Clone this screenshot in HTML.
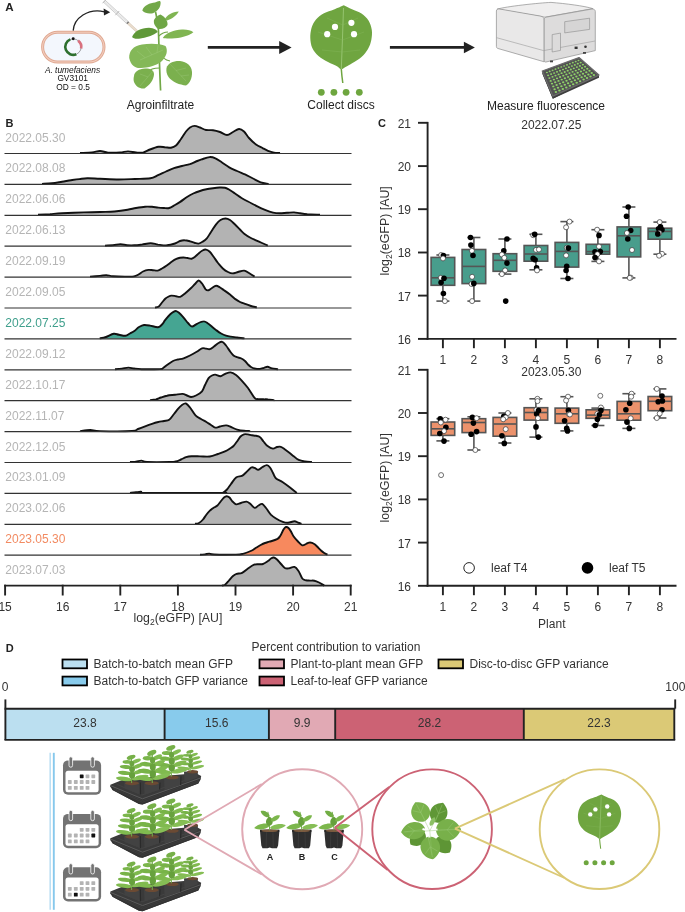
<!DOCTYPE html>
<html><head><meta charset="utf-8"><title>Figure</title>
<style>
html,body{margin:0;padding:0;background:#fff;}
body{width:685px;height:912px;overflow:hidden;}
svg{display:block;will-change:transform;}
text{font-family:"Liberation Sans", sans-serif;}
</style></head>
<body>
<svg width="685" height="912" viewBox="0 0 685 912" font-family='"Liberation Sans", sans-serif'>
<rect width="685" height="912" fill="#fff"/>
<text x="5.3" y="11.3" font-size="11.6" font-weight="bold" fill="#222">A</text>
<!-- bacterium -->
<rect x="42.6" y="32.2" width="61.4" height="29.8" rx="14.9" fill="#f3f7fd" stroke="#dfa892" stroke-width="3"/>
<rect x="42.6" y="32.2" width="61.4" height="29.8" rx="14.9" fill="none" stroke="#f3cdbd" stroke-width="1.1"/>
<circle cx="73.2" cy="46.9" r="8" fill="none" stroke="#444" stroke-width="0.5"/>
<path d="M70.3,39.4 A8,8 0 1,0 76.3,54.3" fill="none" stroke="#2d6f2e" stroke-width="2.6"/>
<path d="M78.1,40.6 A8,8 0 0,1 81.1,48.6" fill="none" stroke="#d8707e" stroke-width="2.6"/>
<circle cx="73.2" cy="38.7" r="1.45" fill="#111"/>
<path d="M73.2,30.6 C74,18 88,8 104.5,11.8" fill="none" stroke="#222" stroke-width="1.3"/>
<path d="M110.2,12.3 L103.6,8.6 L104,15.4 Z" fill="#222"/>
<text x="72.5" y="72.7" font-size="8.35" font-style="italic" fill="#111" text-anchor="middle">A. tumefaciens</text>
<text x="72.7" y="81.4" font-size="8.35" fill="#111" text-anchor="middle">GV3101</text>
<text x="73.1" y="90" font-size="8.35" fill="#111" text-anchor="middle">OD = 0.5</text>
<!-- syringe -->
<g transform="translate(104.4,1.3) rotate(42.6)">
<rect x="0" y="-1.3" width="31" height="2.6" fill="#f4f4f4" stroke="#a8a8a8" stroke-width="0.5"/>
<line x1="1" y1="0" x2="30" y2="0" stroke="#d0d0d0" stroke-width="0.5"/>
<line x1="0" y1="-2.6" x2="0" y2="2.6" stroke="#b5b5b5" stroke-width="0.9"/>
<line x1="17.5" y1="-2.8" x2="17.5" y2="2.8" stroke="#b5b5b5" stroke-width="0.9"/>
<rect x="31" y="-1.3" width="1.6" height="2.6" fill="#777"/>
<rect x="32.6" y="-1.1" width="11.4" height="2.2" fill="#e9dccd" stroke="#c9b8a4" stroke-width="0.4"/>
</g>
<!-- plant -->
<g>
<path d="M160.6,90.5 C159.5,70 159,45 158.4,29.2 C157.5,22 156.5,16 155.5,11.7" fill="none" stroke="#72a848" stroke-width="1.7"/>
<path d="M158.4,52 C162,58 165,60 170,61" fill="none" stroke="#6ea544" stroke-width="1.2"/>
<path d="M159.5,68 C154,68 150,69 148,72" fill="none" stroke="#6ea544" stroke-width="1.2"/>
<path d="M158.8,36 C162,33 165,32 168,32" fill="none" stroke="#6ea544" stroke-width="1.1"/>
<!-- top leaf -->
<path d="M142.3,10.5 C144,5 150,3 155,2.5 C158,1 160,0 160.6,2 C161,7 158,11 153,13.2 C149,14 145,13.5 142.3,10.5Z" fill="#72a848"/>
<!-- upper right small leaf -->
<path d="M165,19 C167,15 172,12 178.8,11.5 C177,15 172,19 167,20.4 Z" fill="#80b552"/>
<!-- middle upper leaf -->
<path d="M160.5,14.6 C165,17 168,21 167.5,25 C166,28 162,29.5 158.5,29 C155,27 153.3,23 154,20 C155.5,17 158,15.5 160.5,14.6Z" fill="#6fa646"/>
<!-- left mid leaf -->
<path d="M132.1,37 C134,31 141,28.2 149,27.7 C154,27.8 157,30 157.7,32 C154,35 146,38 139,38.7 C135.5,39 133,38.5 132.1,37Z" fill="#5f9838"/>
<!-- right mid leaf -->
<path d="M162.8,38 C166,32.5 174,30 182,29.5 C187,29.3 191,30.2 193.4,32.2 C190,35 183,37.5 175,38.2 C170,38.6 165,38.5 162.8,38Z" fill="#80b552"/>
<!-- big left leaf -->
<path d="M129.2,58 C129,51 133,46 142,44.5 C150,43.3 160,43.5 165.5,46 C168,50 167,56 162,61 C156,66 148,67.5 141,68 C136,68.6 131,66 129.2,58Z" fill="#84b858"/>
<!-- right lower leaf -->
<path d="M166.5,68 C168,63 173,60.8 180,61 C187,61.8 191.5,66 192,72 C192.3,78 190,83 186,85.4 C180,85 172,82 168.5,77 C166.6,74 166,71 166.5,68Z" fill="#7bb04e"/>
<!-- left lower leaf -->
<path d="M134,76 C134.5,71.5 139,69 145,68.6 C151,68.6 154,70.5 154,74.5 C153.5,80 150,85 144.5,88.5 C139.5,89 135.5,86 134,82 C133.4,80 133.5,78 134,76Z" fill="#7bb04e"/>
<path d="M163,50 L140,60 M152,55 L146,47 M145,57.5 L137,51 M157,52.5 L158,45" stroke="#a5cf83" stroke-width="0.45" opacity="0.8" fill="none"/>
<path d="M170,64 L186,81 M176,70.5 L186,68 M181,76 L189,75" stroke="#a0cb7e" stroke-width="0.45" opacity="0.8" fill="none"/>
<path d="M153,71 L140,86 M148,77 L140,74" stroke="#a0cb7e" stroke-width="0.45" opacity="0.8" fill="none"/>
</g>
<text x="160.5" y="109.3" font-size="12" fill="#222" text-anchor="middle">Agroinfiltrate</text>
<!-- arrows -->
<line x1="207.8" y1="47.4" x2="281" y2="47.4" stroke="#222" stroke-width="2.9"/>
<path d="M291.6,47.4 L279.2,41 L279.2,53.9 Z" fill="#222"/>
<line x1="389.9" y1="47.4" x2="465" y2="47.4" stroke="#222" stroke-width="2.9"/>
<path d="M474.9,47.4 L463.9,41.7 L463.9,53.2 Z" fill="#222"/>
<!-- leaf with discs -->
<path d="M343.8,5.3C345.2,6 349.1,7.9 352,9.3C354.9,10.7 358.8,11.6 361.5,13.5C364.2,15.4 366.8,17.8 368.5,20.5C370.2,23.2 371.3,26.8 371.8,30C372.3,33.2 371.9,36.8 371.3,40C370.7,43.2 369.6,46.2 368,49C366.4,51.8 364.1,54.7 361.5,57C358.9,59.3 355.2,61.3 352.5,63C349.8,64.7 347.4,66 345.5,67C343.6,68 342.7,69.4 341.3,69.3C339.9,69.2 339.2,67.5 337,66.3C334.8,65.1 331.1,63.7 328,62C324.9,60.3 321.1,58.3 318.5,56C315.9,53.7 313.7,51 312.3,48C310.9,45 310.4,41.3 310.3,38C310.2,34.7 310.6,31.1 311.5,28C312.4,24.9 313.9,21.9 316,19.5C318.1,17.1 321,15 324,13.3C327,11.6 330.7,10.8 334,9.5C337.3,8.2 342.2,6 343.8,5.3Z" fill="#6fa540"/><path d="M343.5,8 Q342.5,40 341.3,69" fill="none" stroke="#a4cf82" stroke-width="0.80" opacity="0.9"/><path d="M341.3,69 Q341.8,76 342.8,83" fill="none" stroke="#6fa540" stroke-width="1.50"/><path d="M342.8,25 L358,18" stroke="#8fbf68" stroke-width="0.50" opacity="0.6"/><path d="M342.8,25 L327,18" stroke="#8fbf68" stroke-width="0.50" opacity="0.6"/><path d="M342.5,40 L364,32" stroke="#8fbf68" stroke-width="0.50" opacity="0.6"/><path d="M342.5,40 L318,32" stroke="#8fbf68" stroke-width="0.50" opacity="0.6"/><path d="M342.2,52 L360,50" stroke="#8fbf68" stroke-width="0.50" opacity="0.6"/><path d="M342.2,52 L322,50" stroke="#8fbf68" stroke-width="0.50" opacity="0.6"/>
<circle cx="335" cy="26.9" r="3.1" fill="#fff"/>
<circle cx="351.4" cy="22.8" r="3.1" fill="#fff"/>
<circle cx="327.2" cy="34.2" r="3.1" fill="#fff"/>
<circle cx="354" cy="34.2" r="3.1" fill="#fff"/>
<circle cx="321.3" cy="92.3" r="3.4" fill="#6ea63f"/>
<circle cx="333.9" cy="92.3" r="3.4" fill="#6ea63f"/>
<circle cx="346.1" cy="92.3" r="3.4" fill="#6ea63f"/>
<circle cx="359.3" cy="92.3" r="3.4" fill="#6ea63f"/>
<text x="341" y="109.3" font-size="12" fill="#222" text-anchor="middle">Collect discs</text>
<!-- plate reader -->
<g stroke-linejoin="round">
<path d="M497.2,9.2 C505,6.5 540,2.8 551,2.4 C565,3.5 585,6 592.8,8.6 L545,17.2 Z" fill="#efeeee" stroke="#8c8c8c" stroke-width="0.7"/>
<path d="M496.4,11 C496.4,9.5 497.5,8.8 499,8.9 L541,16.2 C543,16.7 544.2,18 544.2,20 L544.2,61.8 L498,48.5 C497,48.2 496.4,47.6 496.4,46.5 Z" fill="#e9e8e8" stroke="#8c8c8c" stroke-width="0.7"/>
<path d="M544.2,19 C544.2,17.8 545.5,17.2 547,17 L592,9 C594,8.8 595.3,10 595.3,11.6 L595.3,50.6 L546,62 C545,62.2 544.2,61.6 544.2,60.6 Z" fill="#dddcdc" stroke="#8c8c8c" stroke-width="0.7"/>
<path d="M496.6,37.7 L543.6,50.6 L595,41" fill="none" stroke="#9a9a9a" stroke-width="0.6"/>
<path d="M564.7,21.7 L589.6,18.2 L589.6,29.4 L564.7,32.9 Z" fill="#d6d5d5" stroke="#8c8c8c" stroke-width="0.6"/>
<path d="M552.2,34.6 L560.5,33.1 L560.5,50.4 L552.2,52 Z" fill="#dcdbdb" stroke="#8c8c8c" stroke-width="0.6"/>
<rect x="574.6" y="46.6" width="3" height="2.4" fill="#333"/>
<circle cx="585.5" cy="46.8" r="1.3" fill="#333"/>
<rect x="550" y="60.5" width="3" height="1.8" fill="#444"/>
<rect x="583" y="52" width="3" height="1.8" fill="#444"/>
</g>
<path d="M542.3,73.6 L598.9,77.7 L598.9,75.1 L552.8,98.7 Z" fill="#3e3e3e"/><path d="M542.3,71 L552.8,96.1 L552.8,98.7 L542.3,73.6 Z" fill="#3e3e3e"/><path d="M552.8,96.1 L598.9,75.1 L598.9,77.7 L552.8,98.7 Z" fill="#3e3e3e"/><path d="M542.3,71 L579,57.6 L598.9,75.1 L552.8,96.1 Z" fill="#525252" stroke="#6a6a6a" stroke-width="1.3" stroke-linejoin="round"/><ellipse cx="546.9" cy="72.5" rx="1.03" ry="0.83" fill="#8fd16a"/><ellipse cx="549.7" cy="71.4" rx="1.03" ry="0.83" fill="#8fd16a"/><ellipse cx="552.6" cy="70.3" rx="1.03" ry="0.83" fill="#8fd16a"/><ellipse cx="555.5" cy="69.2" rx="1.03" ry="0.83" fill="#8fd16a"/><ellipse cx="558.4" cy="68.1" rx="1.03" ry="0.83" fill="#8fd16a"/><ellipse cx="561.3" cy="67" rx="1.03" ry="0.83" fill="#8fd16a"/><ellipse cx="564.1" cy="66" rx="1.03" ry="0.83" fill="#8fd16a"/><ellipse cx="567" cy="64.9" rx="1.03" ry="0.83" fill="#8fd16a"/><ellipse cx="569.9" cy="63.8" rx="1.03" ry="0.83" fill="#8fd16a"/><ellipse cx="572.8" cy="62.7" rx="1.03" ry="0.83" fill="#8fd16a"/><ellipse cx="575.7" cy="61.6" rx="1.03" ry="0.83" fill="#8fd16a"/><ellipse cx="578.5" cy="60.5" rx="1.03" ry="0.83" fill="#8fd16a"/><ellipse cx="548.1" cy="75.3" rx="1.06" ry="0.86" fill="#8fd16a"/><ellipse cx="551.1" cy="74.1" rx="1.06" ry="0.86" fill="#8fd16a"/><ellipse cx="554.1" cy="73" rx="1.06" ry="0.86" fill="#8fd16a"/><ellipse cx="557" cy="71.8" rx="1.06" ry="0.86" fill="#8fd16a"/><ellipse cx="560" cy="70.7" rx="1.06" ry="0.86" fill="#8fd16a"/><ellipse cx="563" cy="69.5" rx="1.06" ry="0.86" fill="#8fd16a"/><ellipse cx="565.9" cy="68.3" rx="1.06" ry="0.86" fill="#8fd16a"/><ellipse cx="568.9" cy="67.2" rx="1.06" ry="0.86" fill="#8fd16a"/><ellipse cx="571.9" cy="66" rx="1.06" ry="0.86" fill="#8fd16a"/><ellipse cx="574.8" cy="64.9" rx="1.06" ry="0.86" fill="#8fd16a"/><ellipse cx="577.8" cy="63.7" rx="1.06" ry="0.86" fill="#8fd16a"/><ellipse cx="580.7" cy="62.6" rx="1.06" ry="0.86" fill="#8fd16a"/><ellipse cx="549.4" cy="78.1" rx="1.09" ry="0.88" fill="#8fd16a"/><ellipse cx="552.5" cy="76.8" rx="1.09" ry="0.88" fill="#8fd16a"/><ellipse cx="555.5" cy="75.6" rx="1.09" ry="0.88" fill="#8fd16a"/><ellipse cx="558.6" cy="74.4" rx="1.09" ry="0.88" fill="#8fd16a"/><ellipse cx="561.6" cy="73.2" rx="1.09" ry="0.88" fill="#8fd16a"/><ellipse cx="564.7" cy="72" rx="1.09" ry="0.88" fill="#8fd16a"/><ellipse cx="567.7" cy="70.7" rx="1.09" ry="0.88" fill="#8fd16a"/><ellipse cx="570.8" cy="69.5" rx="1.09" ry="0.88" fill="#8fd16a"/><ellipse cx="573.8" cy="68.3" rx="1.09" ry="0.88" fill="#8fd16a"/><ellipse cx="576.9" cy="67.1" rx="1.09" ry="0.88" fill="#8fd16a"/><ellipse cx="579.9" cy="65.9" rx="1.09" ry="0.88" fill="#8fd16a"/><ellipse cx="582.9" cy="64.6" rx="1.09" ry="0.88" fill="#8fd16a"/><ellipse cx="550.7" cy="80.9" rx="1.12" ry="0.90" fill="#8fd16a"/><ellipse cx="553.9" cy="79.6" rx="1.12" ry="0.90" fill="#8fd16a"/><ellipse cx="557" cy="78.3" rx="1.12" ry="0.90" fill="#8fd16a"/><ellipse cx="560.1" cy="77" rx="1.12" ry="0.90" fill="#8fd16a"/><ellipse cx="563.3" cy="75.7" rx="1.12" ry="0.90" fill="#8fd16a"/><ellipse cx="566.4" cy="74.4" rx="1.12" ry="0.90" fill="#8fd16a"/><ellipse cx="569.5" cy="73.1" rx="1.12" ry="0.90" fill="#8fd16a"/><ellipse cx="572.6" cy="71.8" rx="1.12" ry="0.90" fill="#8fd16a"/><ellipse cx="575.8" cy="70.6" rx="1.12" ry="0.90" fill="#8fd16a"/><ellipse cx="578.9" cy="69.3" rx="1.12" ry="0.90" fill="#8fd16a"/><ellipse cx="582" cy="68" rx="1.12" ry="0.90" fill="#8fd16a"/><ellipse cx="585.1" cy="66.7" rx="1.12" ry="0.90" fill="#8fd16a"/><ellipse cx="552" cy="83.6" rx="1.15" ry="0.93" fill="#8fd16a"/><ellipse cx="555.2" cy="82.3" rx="1.15" ry="0.93" fill="#8fd16a"/><ellipse cx="558.5" cy="80.9" rx="1.15" ry="0.93" fill="#8fd16a"/><ellipse cx="561.7" cy="79.6" rx="1.15" ry="0.93" fill="#8fd16a"/><ellipse cx="564.9" cy="78.2" rx="1.15" ry="0.93" fill="#8fd16a"/><ellipse cx="568.1" cy="76.9" rx="1.15" ry="0.93" fill="#8fd16a"/><ellipse cx="571.3" cy="75.5" rx="1.15" ry="0.93" fill="#8fd16a"/><ellipse cx="574.5" cy="74.2" rx="1.15" ry="0.93" fill="#8fd16a"/><ellipse cx="577.7" cy="72.8" rx="1.15" ry="0.93" fill="#8fd16a"/><ellipse cx="580.9" cy="71.5" rx="1.15" ry="0.93" fill="#8fd16a"/><ellipse cx="584.1" cy="70.1" rx="1.15" ry="0.93" fill="#8fd16a"/><ellipse cx="587.3" cy="68.8" rx="1.15" ry="0.93" fill="#8fd16a"/><ellipse cx="553.3" cy="86.4" rx="1.18" ry="0.95" fill="#8fd16a"/><ellipse cx="556.6" cy="85" rx="1.18" ry="0.95" fill="#8fd16a"/><ellipse cx="559.9" cy="83.6" rx="1.18" ry="0.95" fill="#8fd16a"/><ellipse cx="563.2" cy="82.2" rx="1.18" ry="0.95" fill="#8fd16a"/><ellipse cx="566.5" cy="80.8" rx="1.18" ry="0.95" fill="#8fd16a"/><ellipse cx="569.8" cy="79.3" rx="1.18" ry="0.95" fill="#8fd16a"/><ellipse cx="573.1" cy="77.9" rx="1.18" ry="0.95" fill="#8fd16a"/><ellipse cx="576.4" cy="76.5" rx="1.18" ry="0.95" fill="#8fd16a"/><ellipse cx="579.7" cy="75.1" rx="1.18" ry="0.95" fill="#8fd16a"/><ellipse cx="583" cy="73.7" rx="1.18" ry="0.95" fill="#8fd16a"/><ellipse cx="586.3" cy="72.2" rx="1.18" ry="0.95" fill="#8fd16a"/><ellipse cx="589.5" cy="70.8" rx="1.18" ry="0.95" fill="#8fd16a"/><ellipse cx="554.6" cy="89.2" rx="1.21" ry="0.98" fill="#8fd16a"/><ellipse cx="558" cy="87.7" rx="1.21" ry="0.98" fill="#8fd16a"/><ellipse cx="561.4" cy="86.3" rx="1.21" ry="0.98" fill="#8fd16a"/><ellipse cx="564.8" cy="84.8" rx="1.21" ry="0.98" fill="#8fd16a"/><ellipse cx="568.1" cy="83.3" rx="1.21" ry="0.98" fill="#8fd16a"/><ellipse cx="571.5" cy="81.8" rx="1.21" ry="0.98" fill="#8fd16a"/><ellipse cx="574.9" cy="80.3" rx="1.21" ry="0.98" fill="#8fd16a"/><ellipse cx="578.2" cy="78.8" rx="1.21" ry="0.98" fill="#8fd16a"/><ellipse cx="581.6" cy="77.3" rx="1.21" ry="0.98" fill="#8fd16a"/><ellipse cx="585" cy="75.9" rx="1.21" ry="0.98" fill="#8fd16a"/><ellipse cx="588.4" cy="74.4" rx="1.21" ry="0.98" fill="#8fd16a"/><ellipse cx="591.7" cy="72.9" rx="1.21" ry="0.98" fill="#8fd16a"/><ellipse cx="555.9" cy="92" rx="1.24" ry="1.00" fill="#8fd16a"/><ellipse cx="559.4" cy="90.5" rx="1.24" ry="1.00" fill="#8fd16a"/><ellipse cx="562.8" cy="88.9" rx="1.24" ry="1.00" fill="#8fd16a"/><ellipse cx="566.3" cy="87.4" rx="1.24" ry="1.00" fill="#8fd16a"/><ellipse cx="569.8" cy="85.8" rx="1.24" ry="1.00" fill="#8fd16a"/><ellipse cx="573.2" cy="84.3" rx="1.24" ry="1.00" fill="#8fd16a"/><ellipse cx="576.7" cy="82.7" rx="1.24" ry="1.00" fill="#8fd16a"/><ellipse cx="580.1" cy="81.2" rx="1.24" ry="1.00" fill="#8fd16a"/><ellipse cx="583.6" cy="79.6" rx="1.24" ry="1.00" fill="#8fd16a"/><ellipse cx="587" cy="78" rx="1.24" ry="1.00" fill="#8fd16a"/><ellipse cx="590.5" cy="76.5" rx="1.24" ry="1.00" fill="#8fd16a"/><ellipse cx="593.9" cy="74.9" rx="1.24" ry="1.00" fill="#8fd16a"/>
<text x="546" y="109.5" font-size="12" fill="#222" text-anchor="middle">Measure fluorescence</text>

<text x="5.5" y="127" font-size="11" font-weight="bold" fill="#222">B</text>
<path d="M80,153C82,152.9 88.7,152.8 92,152.5C95.3,152.2 97.3,151 100,151C102.7,151 104.7,152.3 108,152.6C111.3,152.8 116.7,152.7 120,152.5C123.3,152.3 125.3,151.4 128,151.4C130.7,151.4 133.5,152.3 136,152.5C138.5,152.7 140.7,153.1 143,152.6C145.3,152.1 147.4,150.5 150,149.5C152.6,148.5 156,147.2 158.5,146.8C161,146.4 162.9,147 165,147.2C167.1,147.3 169.2,148 171,147.7C172.8,147.4 174.3,146.9 176,145.5C177.7,144.1 179.3,141.3 181,139C182.7,136.7 184.5,133.4 186,131.5C187.5,129.6 188.6,128.4 190,127.5C191.4,126.6 192.8,125.9 194.5,125.9C196.2,125.9 198.1,126.8 200,127.5C201.9,128.2 203.8,129.6 206,130C208.2,130.4 210.7,129.9 213,130.2C215.3,130.5 217.7,131.2 220,132C222.3,132.8 224.8,135 227,135C229.2,135 231,133 233,132C235,131 237.2,129.1 239,129C240.8,128.9 242.3,130 244,131.5C245.7,133 247,135.8 249,138C251,140.2 253.7,142.8 256,144.5C258.3,146.2 261,147.2 263,148.3C265,149.4 266.2,150.1 268,150.8C269.8,151.5 272,152.2 274,152.6C276,153 279,152.9 280,153Z" fill="#b3b3b3" stroke="none"/>
<path d="M80,153C82,152.9 88.7,152.8 92,152.5C95.3,152.2 97.3,151 100,151C102.7,151 104.7,152.3 108,152.6C111.3,152.8 116.7,152.7 120,152.5C123.3,152.3 125.3,151.4 128,151.4C130.7,151.4 133.5,152.3 136,152.5C138.5,152.7 140.7,153.1 143,152.6C145.3,152.1 147.4,150.5 150,149.5C152.6,148.5 156,147.2 158.5,146.8C161,146.4 162.9,147 165,147.2C167.1,147.3 169.2,148 171,147.7C172.8,147.4 174.3,146.9 176,145.5C177.7,144.1 179.3,141.3 181,139C182.7,136.7 184.5,133.4 186,131.5C187.5,129.6 188.6,128.4 190,127.5C191.4,126.6 192.8,125.9 194.5,125.9C196.2,125.9 198.1,126.8 200,127.5C201.9,128.2 203.8,129.6 206,130C208.2,130.4 210.7,129.9 213,130.2C215.3,130.5 217.7,131.2 220,132C222.3,132.8 224.8,135 227,135C229.2,135 231,133 233,132C235,131 237.2,129.1 239,129C240.8,128.9 242.3,130 244,131.5C245.7,133 247,135.8 249,138C251,140.2 253.7,142.8 256,144.5C258.3,146.2 261,147.2 263,148.3C265,149.4 266.2,150.1 268,150.8C269.8,151.5 272,152.2 274,152.6C276,153 279,152.9 280,153" fill="none" stroke="#111" stroke-width="1.9" stroke-linejoin="round"/>
<line x1="4.5" y1="153.5" x2="351.5" y2="153.5" stroke="#333" stroke-width="1.2"/>
<text x="5.3" y="141.5" font-size="12" fill="#b5b5b5">2022.05.30</text>
<path d="M42,183.9C43.7,183.8 48.7,183.7 52,183.3C55.3,183 58.8,182.3 62,181.8C65.2,181.3 68.1,180.6 71,180.2C73.9,179.8 76.7,179.4 79.4,179.1C82.1,178.8 83.9,178.4 87.3,178.3C90.7,178.2 94.8,178.6 100,178.8C105.2,179 113,179.5 118.8,179.5C124.6,179.5 129.7,179.2 135,179C140.3,178.8 146.6,178.9 150.4,178.3C154.2,177.7 155.4,176.3 158,175.2C160.6,174.1 163.3,172.7 166,171.5C168.7,170.3 171.3,169 174,168.1C176.7,167.2 179.4,166.7 182,166C184.6,165.3 187.5,164.8 189.8,164.1C192.1,163.3 194,162.3 196,161.5C198,160.7 199.3,160.1 201.6,159.4C203.8,158.7 207.2,157.3 209.5,157.1C211.8,156.9 213.3,157.4 215.4,158.3C217.5,159.2 219.7,161 222,162.5C224.3,164 226.7,165.9 229.2,167.3C231.7,168.7 234.4,169.8 237,171C239.6,172.2 242.3,173.2 245,174.4C247.7,175.7 250.4,177.2 253,178.5C255.6,179.8 258.1,181.4 260.7,182.3C263.3,183.2 267.3,183.6 268.6,183.9Z" fill="#b3b3b3" stroke="none"/>
<path d="M42,183.9C43.7,183.8 48.7,183.7 52,183.3C55.3,183 58.8,182.3 62,181.8C65.2,181.3 68.1,180.6 71,180.2C73.9,179.8 76.7,179.4 79.4,179.1C82.1,178.8 83.9,178.4 87.3,178.3C90.7,178.2 94.8,178.6 100,178.8C105.2,179 113,179.5 118.8,179.5C124.6,179.5 129.7,179.2 135,179C140.3,178.8 146.6,178.9 150.4,178.3C154.2,177.7 155.4,176.3 158,175.2C160.6,174.1 163.3,172.7 166,171.5C168.7,170.3 171.3,169 174,168.1C176.7,167.2 179.4,166.7 182,166C184.6,165.3 187.5,164.8 189.8,164.1C192.1,163.3 194,162.3 196,161.5C198,160.7 199.3,160.1 201.6,159.4C203.8,158.7 207.2,157.3 209.5,157.1C211.8,156.9 213.3,157.4 215.4,158.3C217.5,159.2 219.7,161 222,162.5C224.3,164 226.7,165.9 229.2,167.3C231.7,168.7 234.4,169.8 237,171C239.6,172.2 242.3,173.2 245,174.4C247.7,175.7 250.4,177.2 253,178.5C255.6,179.8 258.1,181.4 260.7,182.3C263.3,183.2 267.3,183.6 268.6,183.9" fill="none" stroke="#111" stroke-width="1.9" stroke-linejoin="round"/>
<line x1="4.5" y1="184.4" x2="351.5" y2="184.4" stroke="#333" stroke-width="1.2"/>
<text x="5.3" y="172.4" font-size="12" fill="#b5b5b5">2022.08.08</text>
<path d="M38,214.8C40,214.7 46,214.4 50,214.2C54,213.9 56.4,213.6 62,213.3C67.6,213 77.5,212.6 83.8,212.4C90.1,212.2 94.9,212.2 100,212C105.1,211.8 109.9,211.9 114.5,211.5C119.1,211.1 124,210.4 127.6,209.8C131.2,209.2 133.1,208.5 136,208C138.9,207.5 142.4,206.9 145.1,206.7C147.8,206.5 149.8,206.7 152,206.8C154.2,207 156.3,207.4 158.3,207.6C160.3,207.8 162.2,207.9 164,208C165.8,208.1 167.4,208.5 169.2,208C171,207.5 173.2,206 175,205C176.8,204 178.2,203.2 180.2,201.9C182.2,200.6 184.8,198.4 187,197C189.2,195.6 191.1,194.5 193.3,193.5C195.5,192.5 197.8,191.7 200,191C202.2,190.3 204.2,189.8 206.4,189.3C208.6,188.8 210.8,188.5 213,188.2C215.2,187.9 217.6,187.6 219.6,187.5C221.6,187.4 223.4,187.5 225,187.8C226.6,188.1 227.3,188.6 229,189.5C230.7,190.4 232.9,192.1 235,193.5C237.1,194.9 239.3,196.7 241.5,198C243.7,199.3 245.4,200.2 248,201.5C250.6,202.8 254,204.7 256.8,206.1C259.6,207.5 262.3,208.7 265,209.8C267.7,210.9 270.6,212 273.1,212.6C275.6,213.2 277.7,213.2 280,213.2C282.3,213.2 284.7,212.9 287,212.8C289.3,212.7 291.8,212.3 294,212.4C296.2,212.5 297.8,213 300,213.3C302.2,213.6 303.9,213.9 307.2,214.2C310.5,214.4 317.9,214.7 320,214.8Z" fill="#b3b3b3" stroke="none"/>
<path d="M38,214.8C40,214.7 46,214.4 50,214.2C54,213.9 56.4,213.6 62,213.3C67.6,213 77.5,212.6 83.8,212.4C90.1,212.2 94.9,212.2 100,212C105.1,211.8 109.9,211.9 114.5,211.5C119.1,211.1 124,210.4 127.6,209.8C131.2,209.2 133.1,208.5 136,208C138.9,207.5 142.4,206.9 145.1,206.7C147.8,206.5 149.8,206.7 152,206.8C154.2,207 156.3,207.4 158.3,207.6C160.3,207.8 162.2,207.9 164,208C165.8,208.1 167.4,208.5 169.2,208C171,207.5 173.2,206 175,205C176.8,204 178.2,203.2 180.2,201.9C182.2,200.6 184.8,198.4 187,197C189.2,195.6 191.1,194.5 193.3,193.5C195.5,192.5 197.8,191.7 200,191C202.2,190.3 204.2,189.8 206.4,189.3C208.6,188.8 210.8,188.5 213,188.2C215.2,187.9 217.6,187.6 219.6,187.5C221.6,187.4 223.4,187.5 225,187.8C226.6,188.1 227.3,188.6 229,189.5C230.7,190.4 232.9,192.1 235,193.5C237.1,194.9 239.3,196.7 241.5,198C243.7,199.3 245.4,200.2 248,201.5C250.6,202.8 254,204.7 256.8,206.1C259.6,207.5 262.3,208.7 265,209.8C267.7,210.9 270.6,212 273.1,212.6C275.6,213.2 277.7,213.2 280,213.2C282.3,213.2 284.7,212.9 287,212.8C289.3,212.7 291.8,212.3 294,212.4C296.2,212.5 297.8,213 300,213.3C302.2,213.6 303.9,213.9 307.2,214.2C310.5,214.4 317.9,214.7 320,214.8" fill="none" stroke="#111" stroke-width="1.9" stroke-linejoin="round"/>
<line x1="4.5" y1="215.3" x2="351.5" y2="215.3" stroke="#333" stroke-width="1.2"/>
<text x="5.3" y="203.3" font-size="12" fill="#b5b5b5">2022.06.06</text>
<path d="M105,245.7C106.3,245.6 110.4,245.5 113,245.3C115.6,245.1 118.1,244.3 120.4,244.3C122.7,244.3 124.7,245 127,245.2C129.3,245.4 131.9,245.4 134.4,245.3C136.9,245.2 139.3,244.9 142,244.6C144.7,244.2 148,243.2 150.7,243.2C153.4,243.2 155.3,244.2 158,244.6C160.7,244.9 164.3,245.5 167.1,245.3C169.9,245.1 172.8,244.2 175,243.5C177.2,242.8 178.4,241.6 180,241C181.6,240.4 182.9,240.1 184.6,240.2C186.3,240.2 188.3,240.8 190,241.3C191.7,241.8 193.6,242.6 195,243C196.4,243.4 197.3,243.8 198.6,243.6C199.8,243.4 201.1,242.7 202.5,241.8C203.9,240.9 205.4,240 206.8,238.4C208.2,236.8 209.4,234.3 211,232C212.6,229.7 214.5,226.3 216.1,224.3C217.7,222.3 218.9,221 220.5,220C222.1,219 223.9,218.5 225.5,218.5C227.1,218.5 228.4,219 230,220C231.6,221 233.1,222.7 234.8,224.3C236.5,225.9 238.4,227.9 240,229.5C241.6,231.1 242.5,232.4 244.2,233.7C245.9,235 248,236.4 250,237.5C252,238.6 254,239.4 256,240.3C258,241.2 260,242.1 262,243C264,243.9 266.8,245.2 267.8,245.7Z" fill="#b3b3b3" stroke="none"/>
<path d="M105,245.7C106.3,245.6 110.4,245.5 113,245.3C115.6,245.1 118.1,244.3 120.4,244.3C122.7,244.3 124.7,245 127,245.2C129.3,245.4 131.9,245.4 134.4,245.3C136.9,245.2 139.3,244.9 142,244.6C144.7,244.2 148,243.2 150.7,243.2C153.4,243.2 155.3,244.2 158,244.6C160.7,244.9 164.3,245.5 167.1,245.3C169.9,245.1 172.8,244.2 175,243.5C177.2,242.8 178.4,241.6 180,241C181.6,240.4 182.9,240.1 184.6,240.2C186.3,240.2 188.3,240.8 190,241.3C191.7,241.8 193.6,242.6 195,243C196.4,243.4 197.3,243.8 198.6,243.6C199.8,243.4 201.1,242.7 202.5,241.8C203.9,240.9 205.4,240 206.8,238.4C208.2,236.8 209.4,234.3 211,232C212.6,229.7 214.5,226.3 216.1,224.3C217.7,222.3 218.9,221 220.5,220C222.1,219 223.9,218.5 225.5,218.5C227.1,218.5 228.4,219 230,220C231.6,221 233.1,222.7 234.8,224.3C236.5,225.9 238.4,227.9 240,229.5C241.6,231.1 242.5,232.4 244.2,233.7C245.9,235 248,236.4 250,237.5C252,238.6 254,239.4 256,240.3C258,241.2 260,242.1 262,243C264,243.9 266.8,245.2 267.8,245.7" fill="none" stroke="#111" stroke-width="1.9" stroke-linejoin="round"/>
<line x1="4.5" y1="246.2" x2="351.5" y2="246.2" stroke="#333" stroke-width="1.2"/>
<text x="5.3" y="234.2" font-size="12" fill="#b5b5b5">2022.06.13</text>
<path d="M90,276.6C91.7,276.5 97.3,276.1 100,275.9C102.7,275.7 104.2,275.1 106.4,275.2C108.6,275.3 109.9,276.1 113,276.3C116.1,276.5 121.5,276.6 125,276.6C128.5,276.6 131.8,276.8 134,276.4C136.2,276 137,275.3 138.5,274.5C140,273.7 141.3,272.3 143,271.5C144.7,270.7 146.7,270.1 148.4,269.9C150.1,269.7 151.4,270.1 153,270.2C154.6,270.3 156.2,270.9 157.7,270.6C159.2,270.3 160.4,269.4 162,268.5C163.6,267.6 165.4,266.4 167.1,265.2C168.8,264 170.4,262.6 172,261.5C173.6,260.4 175.1,259.5 176.4,258.9C177.7,258.3 178.8,258 180,257.8C181.2,257.6 182.2,257.5 183.4,257.5C184.7,257.5 186.1,257.8 187.5,258C188.9,258.2 190.3,258.9 191.6,258.7C192.8,258.5 193.8,257.7 195,256.8C196.2,255.9 197.3,254.6 198.6,253.5C199.8,252.4 201.2,251.2 202.5,250.5C203.8,249.8 204.9,249.4 206.1,249.6C207.3,249.8 208.2,250.3 209.5,251.5C210.8,252.7 212.4,255.1 213.8,257C215.2,258.9 216.4,261.1 218,263C219.6,264.9 221.4,267.2 223.1,268.7C224.8,270.2 226.4,271.2 228,272C229.6,272.8 230.8,273.4 232.5,273.4C234.2,273.4 236.1,272.5 238,272C239.9,271.5 242.4,270.4 244.2,270.6C246,270.8 247.3,272 249,273C250.7,274 253.7,276 254.6,276.6Z" fill="#b3b3b3" stroke="none"/>
<path d="M90,276.6C91.7,276.5 97.3,276.1 100,275.9C102.7,275.7 104.2,275.1 106.4,275.2C108.6,275.3 109.9,276.1 113,276.3C116.1,276.5 121.5,276.6 125,276.6C128.5,276.6 131.8,276.8 134,276.4C136.2,276 137,275.3 138.5,274.5C140,273.7 141.3,272.3 143,271.5C144.7,270.7 146.7,270.1 148.4,269.9C150.1,269.7 151.4,270.1 153,270.2C154.6,270.3 156.2,270.9 157.7,270.6C159.2,270.3 160.4,269.4 162,268.5C163.6,267.6 165.4,266.4 167.1,265.2C168.8,264 170.4,262.6 172,261.5C173.6,260.4 175.1,259.5 176.4,258.9C177.7,258.3 178.8,258 180,257.8C181.2,257.6 182.2,257.5 183.4,257.5C184.7,257.5 186.1,257.8 187.5,258C188.9,258.2 190.3,258.9 191.6,258.7C192.8,258.5 193.8,257.7 195,256.8C196.2,255.9 197.3,254.6 198.6,253.5C199.8,252.4 201.2,251.2 202.5,250.5C203.8,249.8 204.9,249.4 206.1,249.6C207.3,249.8 208.2,250.3 209.5,251.5C210.8,252.7 212.4,255.1 213.8,257C215.2,258.9 216.4,261.1 218,263C219.6,264.9 221.4,267.2 223.1,268.7C224.8,270.2 226.4,271.2 228,272C229.6,272.8 230.8,273.4 232.5,273.4C234.2,273.4 236.1,272.5 238,272C239.9,271.5 242.4,270.4 244.2,270.6C246,270.8 247.3,272 249,273C250.7,274 253.7,276 254.6,276.6" fill="none" stroke="#111" stroke-width="1.9" stroke-linejoin="round"/>
<line x1="4.5" y1="277.1" x2="351.5" y2="277.1" stroke="#333" stroke-width="1.2"/>
<text x="5.3" y="265.1" font-size="12" fill="#b5b5b5">2022.09.19</text>
<path d="M155,307.5C155.6,307.4 157.3,307.6 158.5,306.8C159.7,306 160.8,303.9 162,302.5C163.2,301.1 164.4,299.5 165.5,298.5C166.6,297.5 167.5,297.1 168.5,296.6C169.5,296.1 170.2,295.7 171.4,295.6C172.7,295.5 174.5,296 176,296.2C177.5,296.4 178.7,297.2 180.2,296.8C181.7,296.4 183.2,295 185,293.5C186.8,292 189.4,289.6 191.1,288C192.8,286.4 193.8,285.2 195,284C196.2,282.8 197.4,280.6 198.6,280.5C199.8,280.4 200.8,282 202,283.5C203.2,285 204.5,288.2 205.6,289.3C206.7,290.4 207.4,290.5 208.5,290.3C209.6,290.1 210.7,288.8 212,288C213.3,287.2 214.8,285.9 216.1,285.8C217.4,285.7 218.7,286.8 220,287.5C221.3,288.2 222.3,289 224,290.2C225.7,291.4 228.2,293.1 230,294.5C231.8,295.9 233.3,297.6 235,298.9C236.7,300.1 238.2,301.1 240,302C241.8,302.9 244.1,303.5 245.9,304.2C247.7,304.9 249.2,305.4 251,306C252.8,306.6 255.8,307.2 256.8,307.5Z" fill="#b3b3b3" stroke="none"/>
<path d="M155,307.5C155.6,307.4 157.3,307.6 158.5,306.8C159.7,306 160.8,303.9 162,302.5C163.2,301.1 164.4,299.5 165.5,298.5C166.6,297.5 167.5,297.1 168.5,296.6C169.5,296.1 170.2,295.7 171.4,295.6C172.7,295.5 174.5,296 176,296.2C177.5,296.4 178.7,297.2 180.2,296.8C181.7,296.4 183.2,295 185,293.5C186.8,292 189.4,289.6 191.1,288C192.8,286.4 193.8,285.2 195,284C196.2,282.8 197.4,280.6 198.6,280.5C199.8,280.4 200.8,282 202,283.5C203.2,285 204.5,288.2 205.6,289.3C206.7,290.4 207.4,290.5 208.5,290.3C209.6,290.1 210.7,288.8 212,288C213.3,287.2 214.8,285.9 216.1,285.8C217.4,285.7 218.7,286.8 220,287.5C221.3,288.2 222.3,289 224,290.2C225.7,291.4 228.2,293.1 230,294.5C231.8,295.9 233.3,297.6 235,298.9C236.7,300.1 238.2,301.1 240,302C241.8,302.9 244.1,303.5 245.9,304.2C247.7,304.9 249.2,305.4 251,306C252.8,306.6 255.8,307.2 256.8,307.5" fill="none" stroke="#111" stroke-width="1.9" stroke-linejoin="round"/>
<line x1="4.5" y1="308" x2="351.5" y2="308" stroke="#333" stroke-width="1.2"/>
<text x="5.3" y="296" font-size="12" fill="#b5b5b5">2022.09.05</text>
<path d="M99.7,338.4C100.8,338.2 103.7,337.8 106,337C108.3,336.2 111.5,334.2 113.7,333.8C115.9,333.4 117,334.5 119,334.8C121,335.1 123.6,336 125.4,335.8C127.2,335.6 128.4,334.4 130,333.5C131.6,332.6 133.2,331.8 134.7,330.7C136.2,329.6 137.4,327.9 139,327C140.6,326.1 142.2,325.2 144,325C145.8,324.8 147.7,325.2 150,325.6C152.3,326 156.1,327.4 158.1,327.2C160.1,327 160.8,325.7 162,324.5C163.2,323.3 163.8,321.9 165.1,320.2C166.4,318.5 168.6,315.9 170,314.5C171.4,313.1 172.4,312.4 173.5,311.8C174.6,311.2 175.4,310.9 176.3,311.1C177.2,311.3 177.8,311.7 179,312.8C180.2,313.9 182.3,316.1 183.8,317.8C185.3,319.5 186.6,321.6 188,323C189.4,324.4 190.5,326.4 192,326.5C193.5,326.6 195.1,324.7 197,323.8C198.9,322.9 201.8,321.4 203.6,321.4C205.4,321.3 206.6,322.6 208,323.5C209.4,324.4 210.5,325.4 211.8,326.5C213.1,327.6 214.4,328.8 216,330C217.6,331.2 219.4,332.6 221.1,333.5C222.8,334.4 224.4,335.1 226,335.6C227.6,336.1 228.7,336.3 230.5,336.6C232.3,336.9 234.7,337.2 237,337.5C239.3,337.8 243.2,338.2 244.5,338.4Z" fill="#45a592" stroke="none"/>
<path d="M99.7,338.4C100.8,338.2 103.7,337.8 106,337C108.3,336.2 111.5,334.2 113.7,333.8C115.9,333.4 117,334.5 119,334.8C121,335.1 123.6,336 125.4,335.8C127.2,335.6 128.4,334.4 130,333.5C131.6,332.6 133.2,331.8 134.7,330.7C136.2,329.6 137.4,327.9 139,327C140.6,326.1 142.2,325.2 144,325C145.8,324.8 147.7,325.2 150,325.6C152.3,326 156.1,327.4 158.1,327.2C160.1,327 160.8,325.7 162,324.5C163.2,323.3 163.8,321.9 165.1,320.2C166.4,318.5 168.6,315.9 170,314.5C171.4,313.1 172.4,312.4 173.5,311.8C174.6,311.2 175.4,310.9 176.3,311.1C177.2,311.3 177.8,311.7 179,312.8C180.2,313.9 182.3,316.1 183.8,317.8C185.3,319.5 186.6,321.6 188,323C189.4,324.4 190.5,326.4 192,326.5C193.5,326.6 195.1,324.7 197,323.8C198.9,322.9 201.8,321.4 203.6,321.4C205.4,321.3 206.6,322.6 208,323.5C209.4,324.4 210.5,325.4 211.8,326.5C213.1,327.6 214.4,328.8 216,330C217.6,331.2 219.4,332.6 221.1,333.5C222.8,334.4 224.4,335.1 226,335.6C227.6,336.1 228.7,336.3 230.5,336.6C232.3,336.9 234.7,337.2 237,337.5C239.3,337.8 243.2,338.2 244.5,338.4" fill="none" stroke="#111" stroke-width="1.9" stroke-linejoin="round"/>
<line x1="4.5" y1="338.9" x2="351.5" y2="338.9" stroke="#333" stroke-width="1.2"/>
<text x="5.3" y="326.9" font-size="12" fill="#3f9f8c">2022.07.25</text>
<path d="M115,369.3C116.2,369.2 119.8,368.9 122,368.6C124.2,368.3 126.4,367.6 128.4,367.6C130.4,367.6 131.8,368.2 134,368.5C136.2,368.8 137.2,369.1 141.5,369.2C145.8,369.3 156.5,369.2 160,369.1C163.5,369 161.4,369.2 162.6,368.5C163.8,367.8 165.3,366.2 167,365C168.7,363.8 171.2,361.9 173,361C174.8,360.1 176.2,359.9 178,359.5C179.8,359.1 181.6,359 183.6,358.3C185.6,357.6 187.8,356.6 190,355.5C192.2,354.4 194.7,353 196.7,351.8C198.7,350.6 200.4,348.8 202,348.3C203.6,347.8 204.7,348.5 206,348.6C207.3,348.7 208.5,349.5 209.8,349.1C211.1,348.8 212.6,347.5 214,346.5C215.4,345.5 217.1,343.8 218.5,343C219.9,342.2 221.1,341.5 222.3,341.9C223.6,342.3 224.6,343.8 226,345.5C227.4,347.2 229.2,350.3 230.5,352C231.8,353.7 232.4,354.6 233.5,355.5C234.6,356.4 235.7,356.7 237,357.2C238.3,357.7 240.1,357.9 241.4,358.5C242.7,359.1 243.9,360 245,361C246.1,362 247,363.5 248,364.5C249,365.5 249.9,366.3 251,367C252.1,367.7 253,368.2 254.5,368.5C256,368.8 258.2,369.1 259.8,369C261.4,368.9 262.7,368.2 264,367.8C265.3,367.4 266.3,366.7 267.6,366.8C268.9,366.9 270.3,367.9 272,368.3C273.7,368.7 277,369.1 278,369.3Z" fill="#b3b3b3" stroke="none"/>
<path d="M115,369.3C116.2,369.2 119.8,368.9 122,368.6C124.2,368.3 126.4,367.6 128.4,367.6C130.4,367.6 131.8,368.2 134,368.5C136.2,368.8 137.2,369.1 141.5,369.2C145.8,369.3 156.5,369.2 160,369.1C163.5,369 161.4,369.2 162.6,368.5C163.8,367.8 165.3,366.2 167,365C168.7,363.8 171.2,361.9 173,361C174.8,360.1 176.2,359.9 178,359.5C179.8,359.1 181.6,359 183.6,358.3C185.6,357.6 187.8,356.6 190,355.5C192.2,354.4 194.7,353 196.7,351.8C198.7,350.6 200.4,348.8 202,348.3C203.6,347.8 204.7,348.5 206,348.6C207.3,348.7 208.5,349.5 209.8,349.1C211.1,348.8 212.6,347.5 214,346.5C215.4,345.5 217.1,343.8 218.5,343C219.9,342.2 221.1,341.5 222.3,341.9C223.6,342.3 224.6,343.8 226,345.5C227.4,347.2 229.2,350.3 230.5,352C231.8,353.7 232.4,354.6 233.5,355.5C234.6,356.4 235.7,356.7 237,357.2C238.3,357.7 240.1,357.9 241.4,358.5C242.7,359.1 243.9,360 245,361C246.1,362 247,363.5 248,364.5C249,365.5 249.9,366.3 251,367C252.1,367.7 253,368.2 254.5,368.5C256,368.8 258.2,369.1 259.8,369C261.4,368.9 262.7,368.2 264,367.8C265.3,367.4 266.3,366.7 267.6,366.8C268.9,366.9 270.3,367.9 272,368.3C273.7,368.7 277,369.1 278,369.3" fill="none" stroke="#111" stroke-width="1.9" stroke-linejoin="round"/>
<line x1="4.5" y1="369.8" x2="351.5" y2="369.8" stroke="#333" stroke-width="1.2"/>
<text x="5.3" y="357.8" font-size="12" fill="#b5b5b5">2022.09.12</text>
<path d="M150,400.2C151,400.1 154.2,399.8 156,399.4C157.8,398.9 159.2,398.1 161,397.5C162.8,396.9 164.7,396.1 167,395.7C169.3,395.2 172.4,395.1 175,394.8C177.6,394.5 180.4,393.8 182.4,393.9C184.4,394 185.6,395 187,395.5C188.4,396 189.6,397 191.1,397C192.6,397 194.2,396.4 196,395.5C197.8,394.6 200.5,393.1 202,391.3C203.5,389.6 203.9,387.2 205,385C206.1,382.8 207.4,379.7 208.6,378.1C209.8,376.5 210.9,376.1 212,375.5C213.1,374.9 213.8,374.5 215.2,374.6C216.6,374.7 218.9,376.3 220.5,376.2C222.1,376.1 223.3,374.6 225,374C226.7,373.4 228.7,372.2 230.5,372.4C232.3,372.6 234.2,373.7 236,375C237.8,376.3 239.5,378.1 241.5,380.3C243.5,382.5 245.8,385.1 248,388C250.2,390.9 252.9,396 254.6,397.9C256.3,399.8 256.5,398.9 258,399.1C259.5,399.3 261.7,399.2 263.4,399.3C265.1,399.4 266.2,399.2 268,399.4C269.8,399.5 273.2,400.1 274.3,400.2Z" fill="#b3b3b3" stroke="none"/>
<path d="M150,400.2C151,400.1 154.2,399.8 156,399.4C157.8,398.9 159.2,398.1 161,397.5C162.8,396.9 164.7,396.1 167,395.7C169.3,395.2 172.4,395.1 175,394.8C177.6,394.5 180.4,393.8 182.4,393.9C184.4,394 185.6,395 187,395.5C188.4,396 189.6,397 191.1,397C192.6,397 194.2,396.4 196,395.5C197.8,394.6 200.5,393.1 202,391.3C203.5,389.6 203.9,387.2 205,385C206.1,382.8 207.4,379.7 208.6,378.1C209.8,376.5 210.9,376.1 212,375.5C213.1,374.9 213.8,374.5 215.2,374.6C216.6,374.7 218.9,376.3 220.5,376.2C222.1,376.1 223.3,374.6 225,374C226.7,373.4 228.7,372.2 230.5,372.4C232.3,372.6 234.2,373.7 236,375C237.8,376.3 239.5,378.1 241.5,380.3C243.5,382.5 245.8,385.1 248,388C250.2,390.9 252.9,396 254.6,397.9C256.3,399.8 256.5,398.9 258,399.1C259.5,399.3 261.7,399.2 263.4,399.3C265.1,399.4 266.2,399.2 268,399.4C269.8,399.5 273.2,400.1 274.3,400.2" fill="none" stroke="#111" stroke-width="1.9" stroke-linejoin="round"/>
<line x1="4.5" y1="400.7" x2="351.5" y2="400.7" stroke="#333" stroke-width="1.2"/>
<text x="5.3" y="388.7" font-size="12" fill="#b5b5b5">2022.10.17</text>
<path d="M80,431.1C81.7,430.9 87.1,430 90.4,430C93.7,430 93.1,430.9 100,431.1C106.9,431.3 125.7,431.4 132,431C138.3,430.6 135.8,429.8 138,429C140.2,428.2 142.8,427.2 145.1,426.3C147.4,425.4 149.8,424.5 152,423.8C154.2,423.1 156.3,422.5 158.3,422C160.3,421.5 162.2,421.4 164,421C165.8,420.6 167.5,421 169.2,419.8C170.9,418.6 172.5,415.8 174,414C175.5,412.2 176.7,410.3 178,408.8C179.3,407.3 180.7,405.9 182,405C183.3,404.1 184.6,403.1 185.9,403.5C187.2,403.9 188.4,405.5 190,407.5C191.6,409.5 193.7,413.5 195.5,415.4C197.3,417.3 199.2,417.9 201,419C202.8,420.1 204.7,421 206.4,422C208.1,423 209.5,424.1 211,425C212.5,425.9 213.7,427.4 215.2,427.6C216.7,427.9 218.2,426.9 220,426.5C221.8,426.1 224.4,425.3 226.2,425.4C228,425.5 229.2,426.3 231,427C232.8,427.7 234.9,429 237.1,429.6C239.3,430.2 241.8,430.6 244,430.8C246.2,431.1 249.2,431 250.2,431.1Z" fill="#b3b3b3" stroke="none"/>
<path d="M80,431.1C81.7,430.9 87.1,430 90.4,430C93.7,430 93.1,430.9 100,431.1C106.9,431.3 125.7,431.4 132,431C138.3,430.6 135.8,429.8 138,429C140.2,428.2 142.8,427.2 145.1,426.3C147.4,425.4 149.8,424.5 152,423.8C154.2,423.1 156.3,422.5 158.3,422C160.3,421.5 162.2,421.4 164,421C165.8,420.6 167.5,421 169.2,419.8C170.9,418.6 172.5,415.8 174,414C175.5,412.2 176.7,410.3 178,408.8C179.3,407.3 180.7,405.9 182,405C183.3,404.1 184.6,403.1 185.9,403.5C187.2,403.9 188.4,405.5 190,407.5C191.6,409.5 193.7,413.5 195.5,415.4C197.3,417.3 199.2,417.9 201,419C202.8,420.1 204.7,421 206.4,422C208.1,423 209.5,424.1 211,425C212.5,425.9 213.7,427.4 215.2,427.6C216.7,427.9 218.2,426.9 220,426.5C221.8,426.1 224.4,425.3 226.2,425.4C228,425.5 229.2,426.3 231,427C232.8,427.7 234.9,429 237.1,429.6C239.3,430.2 241.8,430.6 244,430.8C246.2,431.1 249.2,431 250.2,431.1" fill="none" stroke="#111" stroke-width="1.9" stroke-linejoin="round"/>
<line x1="4.5" y1="431.6" x2="351.5" y2="431.6" stroke="#333" stroke-width="1.2"/>
<text x="5.3" y="419.6" font-size="12" fill="#b5b5b5">2022.11.07</text>
<path d="M130,462C131,461.9 134.1,461.8 136,461.6C137.9,461.4 139.7,460.5 141.5,460.6C143.3,460.7 142.2,461.8 147,462C151.8,462.2 165.2,462.1 170,462C174.8,461.9 173.9,461.9 175.7,461.5C177.5,461.1 179.3,460.2 181,459.5C182.7,458.8 184.2,457.8 186,457.2C187.8,456.6 189.2,456.3 191.5,456.2C193.8,456.1 196.9,456.3 200,456.4C203.1,456.4 206.8,456.9 209.8,456.5C212.8,456.1 215.4,454.9 218,454C220.6,453.1 223.6,452.1 225.6,451.2C227.6,450.3 228.7,449.4 230,448.5C231.3,447.6 232.3,447.2 233.5,446C234.7,444.8 235.8,443.1 237,441.5C238.2,439.9 239.3,437.7 240.5,436.5C241.7,435.3 242.8,434.7 244,434.3C245.2,433.9 246.7,434.2 248,434.4C249.3,434.6 250.6,435.1 251.9,435.3C253.2,435.5 254.7,435.5 256,435.8C257.3,436.1 258.6,436.1 259.8,437C261.1,437.9 262.2,440 263.5,441.5C264.8,443 266,444.8 267.6,446C269.2,447.2 271.3,448.4 272.9,448.6C274.5,448.8 275.7,447.3 277,447C278.3,446.7 279.5,446.4 280.8,446.8C282.1,447.2 283.5,448.4 285,449.5C286.5,450.6 288.5,452.1 290,453.3C291.5,454.5 292.6,455.4 294,456.5C295.4,457.6 296.9,459.1 298.7,459.9C300.5,460.7 302.8,461.1 305,461.5C307.2,461.9 310.8,461.9 311.9,462Z" fill="#b3b3b3" stroke="none"/>
<path d="M130,462C131,461.9 134.1,461.8 136,461.6C137.9,461.4 139.7,460.5 141.5,460.6C143.3,460.7 142.2,461.8 147,462C151.8,462.2 165.2,462.1 170,462C174.8,461.9 173.9,461.9 175.7,461.5C177.5,461.1 179.3,460.2 181,459.5C182.7,458.8 184.2,457.8 186,457.2C187.8,456.6 189.2,456.3 191.5,456.2C193.8,456.1 196.9,456.3 200,456.4C203.1,456.4 206.8,456.9 209.8,456.5C212.8,456.1 215.4,454.9 218,454C220.6,453.1 223.6,452.1 225.6,451.2C227.6,450.3 228.7,449.4 230,448.5C231.3,447.6 232.3,447.2 233.5,446C234.7,444.8 235.8,443.1 237,441.5C238.2,439.9 239.3,437.7 240.5,436.5C241.7,435.3 242.8,434.7 244,434.3C245.2,433.9 246.7,434.2 248,434.4C249.3,434.6 250.6,435.1 251.9,435.3C253.2,435.5 254.7,435.5 256,435.8C257.3,436.1 258.6,436.1 259.8,437C261.1,437.9 262.2,440 263.5,441.5C264.8,443 266,444.8 267.6,446C269.2,447.2 271.3,448.4 272.9,448.6C274.5,448.8 275.7,447.3 277,447C278.3,446.7 279.5,446.4 280.8,446.8C282.1,447.2 283.5,448.4 285,449.5C286.5,450.6 288.5,452.1 290,453.3C291.5,454.5 292.6,455.4 294,456.5C295.4,457.6 296.9,459.1 298.7,459.9C300.5,460.7 302.8,461.1 305,461.5C307.2,461.9 310.8,461.9 311.9,462" fill="none" stroke="#111" stroke-width="1.9" stroke-linejoin="round"/>
<line x1="4.5" y1="462.5" x2="351.5" y2="462.5" stroke="#333" stroke-width="1.2"/>
<text x="5.3" y="450.5" font-size="12" fill="#b5b5b5">2022.12.05</text>
<path d="M130,492.9C131,492.8 134.2,492.5 136,492.3C137.8,492.1 139.3,491.7 141,491.8C142.7,491.9 132.8,492.7 146,492.9C159.2,493.1 207.1,492.9 220,492.9C232.9,492.8 222,493.2 223.2,492.6C224.4,492 225.7,490.9 227,489.5C228.3,488.1 229.5,486 231,484C232.5,482 234.3,478.9 236.1,477.5C237.9,476.1 240.2,476.7 241.9,475.9C243.6,475.1 244.4,473.9 246,472.5C247.6,471.1 249.8,468.3 251.2,467.5C252.6,466.7 253.3,467.4 254.5,467.8C255.7,468.2 257,469.9 258.3,469.8C259.6,469.7 261.1,467.8 262.5,467C263.9,466.2 265.6,465 266.9,465.1C268.1,465.2 269,466.2 270,467.5C271,468.8 272,471.2 273,473C274,474.8 274.2,476.7 275.8,478.2C277.4,479.7 280.4,480.6 282.8,482.2C285.2,483.8 287.7,485.7 290,487.5C292.3,489.3 295.7,492 296.8,492.9Z" fill="#b3b3b3" stroke="none"/>
<path d="M130,492.9C131,492.8 134.2,492.5 136,492.3C137.8,492.1 139.3,491.7 141,491.8C142.7,491.9 132.8,492.7 146,492.9C159.2,493.1 207.1,492.9 220,492.9C232.9,492.8 222,493.2 223.2,492.6C224.4,492 225.7,490.9 227,489.5C228.3,488.1 229.5,486 231,484C232.5,482 234.3,478.9 236.1,477.5C237.9,476.1 240.2,476.7 241.9,475.9C243.6,475.1 244.4,473.9 246,472.5C247.6,471.1 249.8,468.3 251.2,467.5C252.6,466.7 253.3,467.4 254.5,467.8C255.7,468.2 257,469.9 258.3,469.8C259.6,469.7 261.1,467.8 262.5,467C263.9,466.2 265.6,465 266.9,465.1C268.1,465.2 269,466.2 270,467.5C271,468.8 272,471.2 273,473C274,474.8 274.2,476.7 275.8,478.2C277.4,479.7 280.4,480.6 282.8,482.2C285.2,483.8 287.7,485.7 290,487.5C292.3,489.3 295.7,492 296.8,492.9" fill="none" stroke="#111" stroke-width="1.9" stroke-linejoin="round"/>
<line x1="4.5" y1="493.4" x2="351.5" y2="493.4" stroke="#333" stroke-width="1.2"/>
<text x="5.3" y="481.4" font-size="12" fill="#b5b5b5">2023.01.09</text>
<path d="M195,523.8C195.7,523.7 197.7,523.7 199,523C200.3,522.3 201.8,520.9 203,519.5C204.2,518.1 205.3,516 206.5,514.5C207.7,513 209.2,511.4 210.4,510.2C211.7,509 212.8,508.3 214,507.5C215.2,506.7 216.2,506.6 217.4,505.5C218.6,504.4 219.9,502.3 221,501C222.1,499.7 223.1,498.3 224,497.5C224.9,496.7 225.8,496.2 226.7,496.2C227.6,496.2 228.5,496.6 229.5,497.5C230.5,498.4 231.4,500.4 232.5,501.5C233.6,502.6 234.7,504.1 236.1,504.4C237.5,504.6 239.2,503.5 241,503C242.8,502.5 245,501.4 246.6,501.6C248.2,501.8 249.2,502.9 250.5,504C251.8,505.1 253.4,507.6 254.7,507.9C256,508.1 257.2,506.2 258.5,505.5C259.8,504.8 260.9,503.5 262.2,503.9C263.4,504.3 264.5,506.2 266,508C267.5,509.8 269.4,513.1 271.1,514.9C272.8,516.6 274.1,517.3 276,518.5C277.9,519.7 280.8,521.2 282.8,521.9C284.8,522.6 286.1,522.9 288,522.8C289.9,522.7 292.8,521.2 294.5,521.2C296.2,521.2 296.8,522.2 298,522.6C299.2,523 300.9,523.6 301.5,523.8Z" fill="#b3b3b3" stroke="none"/>
<path d="M195,523.8C195.7,523.7 197.7,523.7 199,523C200.3,522.3 201.8,520.9 203,519.5C204.2,518.1 205.3,516 206.5,514.5C207.7,513 209.2,511.4 210.4,510.2C211.7,509 212.8,508.3 214,507.5C215.2,506.7 216.2,506.6 217.4,505.5C218.6,504.4 219.9,502.3 221,501C222.1,499.7 223.1,498.3 224,497.5C224.9,496.7 225.8,496.2 226.7,496.2C227.6,496.2 228.5,496.6 229.5,497.5C230.5,498.4 231.4,500.4 232.5,501.5C233.6,502.6 234.7,504.1 236.1,504.4C237.5,504.6 239.2,503.5 241,503C242.8,502.5 245,501.4 246.6,501.6C248.2,501.8 249.2,502.9 250.5,504C251.8,505.1 253.4,507.6 254.7,507.9C256,508.1 257.2,506.2 258.5,505.5C259.8,504.8 260.9,503.5 262.2,503.9C263.4,504.3 264.5,506.2 266,508C267.5,509.8 269.4,513.1 271.1,514.9C272.8,516.6 274.1,517.3 276,518.5C277.9,519.7 280.8,521.2 282.8,521.9C284.8,522.6 286.1,522.9 288,522.8C289.9,522.7 292.8,521.2 294.5,521.2C296.2,521.2 296.8,522.2 298,522.6C299.2,523 300.9,523.6 301.5,523.8" fill="none" stroke="#111" stroke-width="1.9" stroke-linejoin="round"/>
<line x1="4.5" y1="524.3" x2="351.5" y2="524.3" stroke="#333" stroke-width="1.2"/>
<text x="5.3" y="512.3" font-size="12" fill="#b5b5b5">2023.02.06</text>
<path d="M200,554.7C200.8,554.7 203.5,554.6 205,554.4C206.5,554.2 207.7,553.6 209.2,553.6C210.7,553.6 209.5,554.3 214,554.5C218.5,554.7 231.2,554.7 236,554.6C240.8,554.5 240.3,554.5 243,553.8C245.7,553.1 249.7,551.5 251.9,550.5C254.1,549.5 254.5,548.7 256,547.8C257.5,546.9 259.2,545.8 260.7,545C262.2,544.2 263.6,543.5 265,543C266.4,542.5 267.4,542.3 269.4,541.7C271.4,541.1 275.2,540.2 277.1,539.2C279,538.2 279.4,537.1 280.5,535.5C281.6,533.9 282.6,530.9 283.5,529.5C284.4,528.1 285.1,527.2 285.9,527C286.7,526.8 287.6,527.2 288.5,528C289.4,528.8 290.2,530.1 291,531.5C291.8,532.9 292.3,534.5 293.5,536.2C294.7,537.9 296.5,540 298,541.5C299.5,543 301,544.9 302.3,545.3C303.6,545.7 304.9,544.5 306,544C307.1,543.5 308,542.8 309,542.6C310,542.4 311.1,542.5 312.1,542.8C313.1,543.1 314.1,543.8 315,544.5C315.9,545.2 316.6,546 317.6,547C318.6,548 319.9,549.5 321,550.5C322.1,551.5 323.1,552.3 324.2,553C325.3,553.7 326.9,554.4 327.5,554.7Z" fill="#f7895e" stroke="none"/>
<path d="M200,554.7C200.8,554.7 203.5,554.6 205,554.4C206.5,554.2 207.7,553.6 209.2,553.6C210.7,553.6 209.5,554.3 214,554.5C218.5,554.7 231.2,554.7 236,554.6C240.8,554.5 240.3,554.5 243,553.8C245.7,553.1 249.7,551.5 251.9,550.5C254.1,549.5 254.5,548.7 256,547.8C257.5,546.9 259.2,545.8 260.7,545C262.2,544.2 263.6,543.5 265,543C266.4,542.5 267.4,542.3 269.4,541.7C271.4,541.1 275.2,540.2 277.1,539.2C279,538.2 279.4,537.1 280.5,535.5C281.6,533.9 282.6,530.9 283.5,529.5C284.4,528.1 285.1,527.2 285.9,527C286.7,526.8 287.6,527.2 288.5,528C289.4,528.8 290.2,530.1 291,531.5C291.8,532.9 292.3,534.5 293.5,536.2C294.7,537.9 296.5,540 298,541.5C299.5,543 301,544.9 302.3,545.3C303.6,545.7 304.9,544.5 306,544C307.1,543.5 308,542.8 309,542.6C310,542.4 311.1,542.5 312.1,542.8C313.1,543.1 314.1,543.8 315,544.5C315.9,545.2 316.6,546 317.6,547C318.6,548 319.9,549.5 321,550.5C322.1,551.5 323.1,552.3 324.2,553C325.3,553.7 326.9,554.4 327.5,554.7" fill="none" stroke="#111" stroke-width="1.9" stroke-linejoin="round"/>
<line x1="4.5" y1="555.2" x2="351.5" y2="555.2" stroke="#333" stroke-width="1.2"/>
<text x="5.3" y="543.2" font-size="12" fill="#f28b62">2023.05.30</text>
<path d="M222,585.6C222.5,585.5 223.8,585.6 225,584.8C226.2,583.9 227.7,582 229,580.5C230.3,579 231.7,577.1 233,576C234.3,574.9 235.1,574.4 236.6,573.9C238.1,573.4 240.2,573.7 242.1,572.8C244,571.9 246,569.9 248,568.5C250,567.1 252.3,565.4 254.1,564.7C255.8,564 257,564.3 258.5,564.2C260,564.1 261.3,564.5 262.9,564C264.5,563.5 266.6,561.9 268,561C269.4,560.1 270,559.1 271,558.5C272,557.9 272.8,557.3 273.8,557.5C274.8,557.7 275.8,558.4 277,559.5C278.2,560.6 279.7,562.6 281,564C282.3,565.4 283.5,567.3 284.8,568C286.1,568.7 287.4,568.5 289,568.3C290.6,568.1 292.9,566.4 294.5,566.9C296.1,567.4 297.2,569.1 298.5,571C299.8,572.9 301.1,577 302.3,578.5C303.6,580 304.7,579.9 306,580.3C307.3,580.6 308.6,580.5 310,580.6C311.4,580.7 312.8,580.4 314.3,580.7C315.8,581 317.4,581.7 319,582.5C320.6,583.3 323.3,585.1 324.2,585.6Z" fill="#b3b3b3" stroke="none"/>
<path d="M222,585.6C222.5,585.5 223.8,585.6 225,584.8C226.2,583.9 227.7,582 229,580.5C230.3,579 231.7,577.1 233,576C234.3,574.9 235.1,574.4 236.6,573.9C238.1,573.4 240.2,573.7 242.1,572.8C244,571.9 246,569.9 248,568.5C250,567.1 252.3,565.4 254.1,564.7C255.8,564 257,564.3 258.5,564.2C260,564.1 261.3,564.5 262.9,564C264.5,563.5 266.6,561.9 268,561C269.4,560.1 270,559.1 271,558.5C272,557.9 272.8,557.3 273.8,557.5C274.8,557.7 275.8,558.4 277,559.5C278.2,560.6 279.7,562.6 281,564C282.3,565.4 283.5,567.3 284.8,568C286.1,568.7 287.4,568.5 289,568.3C290.6,568.1 292.9,566.4 294.5,566.9C296.1,567.4 297.2,569.1 298.5,571C299.8,572.9 301.1,577 302.3,578.5C303.6,580 304.7,579.9 306,580.3C307.3,580.6 308.6,580.5 310,580.6C311.4,580.7 312.8,580.4 314.3,580.7C315.8,581 317.4,581.7 319,582.5C320.6,583.3 323.3,585.1 324.2,585.6" fill="none" stroke="#111" stroke-width="1.9" stroke-linejoin="round"/>
<text x="5.3" y="574.1" font-size="12" fill="#b5b5b5">2023.07.03</text>
<line x1="4.2" y1="585.6" x2="351.6" y2="585.6" stroke="#222" stroke-width="1.9"/>
<line x1="5.1" y1="584.7" x2="5.1" y2="595.5" stroke="#222" stroke-width="1.9"/>
<text x="5.1" y="610.6" font-size="12" fill="#333" text-anchor="middle">15</text>
<line x1="62.7" y1="584.7" x2="62.7" y2="595.5" stroke="#222" stroke-width="1.9"/>
<text x="62.7" y="610.6" font-size="12" fill="#333" text-anchor="middle">16</text>
<line x1="120.3" y1="584.7" x2="120.3" y2="595.5" stroke="#222" stroke-width="1.9"/>
<text x="120.3" y="610.6" font-size="12" fill="#333" text-anchor="middle">17</text>
<line x1="177.9" y1="584.7" x2="177.9" y2="595.5" stroke="#222" stroke-width="1.9"/>
<text x="177.9" y="610.6" font-size="12" fill="#333" text-anchor="middle">18</text>
<line x1="235.5" y1="584.7" x2="235.5" y2="595.5" stroke="#222" stroke-width="1.9"/>
<text x="235.5" y="610.6" font-size="12" fill="#333" text-anchor="middle">19</text>
<line x1="293.1" y1="584.7" x2="293.1" y2="595.5" stroke="#222" stroke-width="1.9"/>
<text x="293.1" y="610.6" font-size="12" fill="#333" text-anchor="middle">20</text>
<line x1="350.7" y1="584.7" x2="350.7" y2="595.5" stroke="#222" stroke-width="1.9"/>
<text x="350.7" y="610.6" font-size="12" fill="#333" text-anchor="middle">21</text>
<text x="177.9" y="622.2" font-size="12.3" fill="#333" text-anchor="middle">log<tspan font-size="8.5" dy="2.8">2</tspan><tspan dy="-2.8">(eGFP) [AU]</tspan></text>
<text x="378" y="126.8" font-size="11" font-weight="bold" fill="#222">C</text>
<line x1="427.6" y1="121.9" x2="427.6" y2="339.8" stroke="#222" stroke-width="1.9"/>
<line x1="418" y1="122.8" x2="427.6" y2="122.8" stroke="#222" stroke-width="1.9"/>
<text x="411" y="127.8" font-size="12" fill="#333" text-anchor="end">21</text>
<line x1="418" y1="166.1" x2="427.6" y2="166.1" stroke="#222" stroke-width="1.9"/>
<text x="411" y="171" font-size="12" fill="#333" text-anchor="end">20</text>
<line x1="418" y1="209.2" x2="427.6" y2="209.2" stroke="#222" stroke-width="1.9"/>
<text x="411" y="214.2" font-size="12" fill="#333" text-anchor="end">19</text>
<line x1="418" y1="252.5" x2="427.6" y2="252.5" stroke="#222" stroke-width="1.9"/>
<text x="411" y="257.4" font-size="12" fill="#333" text-anchor="end">18</text>
<line x1="418" y1="295.6" x2="427.6" y2="295.6" stroke="#222" stroke-width="1.9"/>
<text x="411" y="300.5" font-size="12" fill="#333" text-anchor="end">17</text>
<line x1="418" y1="338.9" x2="427.6" y2="338.9" stroke="#222" stroke-width="1.9"/>
<text x="411" y="343.8" font-size="12" fill="#333" text-anchor="end">16</text>
<line x1="426.7" y1="338.9" x2="676.5" y2="338.9" stroke="#222" stroke-width="1.9"/>
<line x1="442.9" y1="338.9" x2="442.9" y2="348.2" stroke="#222" stroke-width="1.9"/>
<text x="442.9" y="364.3" font-size="12" fill="#333" text-anchor="middle">1</text>
<line x1="473.9" y1="338.9" x2="473.9" y2="348.2" stroke="#222" stroke-width="1.9"/>
<text x="473.9" y="364.3" font-size="12" fill="#333" text-anchor="middle">2</text>
<line x1="504.9" y1="338.9" x2="504.9" y2="348.2" stroke="#222" stroke-width="1.9"/>
<text x="504.9" y="364.3" font-size="12" fill="#333" text-anchor="middle">3</text>
<line x1="535.9" y1="338.9" x2="535.9" y2="348.2" stroke="#222" stroke-width="1.9"/>
<text x="535.9" y="364.3" font-size="12" fill="#333" text-anchor="middle">4</text>
<line x1="566.9" y1="338.9" x2="566.9" y2="348.2" stroke="#222" stroke-width="1.9"/>
<text x="566.9" y="364.3" font-size="12" fill="#333" text-anchor="middle">5</text>
<line x1="597.9" y1="338.9" x2="597.9" y2="348.2" stroke="#222" stroke-width="1.9"/>
<text x="597.9" y="364.3" font-size="12" fill="#333" text-anchor="middle">6</text>
<line x1="628.9" y1="338.9" x2="628.9" y2="348.2" stroke="#222" stroke-width="1.9"/>
<text x="628.9" y="364.3" font-size="12" fill="#333" text-anchor="middle">7</text>
<line x1="659.9" y1="338.9" x2="659.9" y2="348.2" stroke="#222" stroke-width="1.9"/>
<text x="659.9" y="364.3" font-size="12" fill="#333" text-anchor="middle">8</text>
<text x="551.3" y="129" font-size="12" fill="#333" text-anchor="middle">2022.07.25</text>
<text transform="translate(388.8,230.9) rotate(-90)" font-size="12.4" fill="#333" text-anchor="middle">log<tspan font-size="8.5" dy="2.8">2</tspan><tspan dy="-2.8">(eGFP) [AU]</tspan></text>
<line x1="442.9" y1="255" x2="442.9" y2="257.4" stroke="#555" stroke-width="1.6"/>
<line x1="442.9" y1="285.3" x2="442.9" y2="301.1" stroke="#555" stroke-width="1.6"/>
<line x1="436.4" y1="255" x2="449.4" y2="255" stroke="#555" stroke-width="1.6"/>
<line x1="436.4" y1="301.1" x2="449.4" y2="301.1" stroke="#555" stroke-width="1.6"/>
<rect x="431.1" y="257.4" width="23.6" height="27.9" fill="#489d8c" stroke="#555" stroke-width="1.6"/>
<line x1="431.1" y1="277.8" x2="454.7" y2="277.8" stroke="#555" stroke-width="1.6"/>
<circle cx="441.1" cy="255" r="2.5" fill="#fff" stroke="#333" stroke-width="0.7"/>
<circle cx="443.4" cy="255.5" r="2.8" fill="#000"/>
<circle cx="443" cy="258.4" r="2.5" fill="#fff" stroke="#333" stroke-width="0.7"/>
<circle cx="440.8" cy="277.8" r="2.5" fill="#fff" stroke="#333" stroke-width="0.7"/>
<circle cx="444" cy="278.3" r="2.8" fill="#000"/>
<circle cx="441.1" cy="282.5" r="2.8" fill="#000"/>
<circle cx="443.4" cy="293.5" r="2.8" fill="#000"/>
<circle cx="444.9" cy="301.1" r="2.5" fill="#fff" stroke="#333" stroke-width="0.7"/>
<line x1="473.9" y1="237.5" x2="473.9" y2="249.5" stroke="#555" stroke-width="1.6"/>
<line x1="473.9" y1="283.6" x2="473.9" y2="301.1" stroke="#555" stroke-width="1.6"/>
<line x1="467.4" y1="237.5" x2="480.4" y2="237.5" stroke="#555" stroke-width="1.6"/>
<line x1="467.4" y1="301.1" x2="480.4" y2="301.1" stroke="#555" stroke-width="1.6"/>
<rect x="462.1" y="249.5" width="23.6" height="34.1" fill="#489d8c" stroke="#555" stroke-width="1.6"/>
<line x1="462.1" y1="266.4" x2="485.7" y2="266.4" stroke="#555" stroke-width="1.6"/>
<circle cx="470.5" cy="237.5" r="2.8" fill="#000"/>
<circle cx="470.9" cy="245.1" r="2.8" fill="#000"/>
<circle cx="471.9" cy="250.8" r="2.5" fill="#fff" stroke="#333" stroke-width="0.7"/>
<circle cx="473" cy="255.5" r="2.8" fill="#000"/>
<circle cx="472.1" cy="276.8" r="2.5" fill="#fff" stroke="#333" stroke-width="0.7"/>
<circle cx="471.5" cy="284" r="2.5" fill="#fff" stroke="#333" stroke-width="0.7"/>
<circle cx="473.8" cy="283.4" r="2.8" fill="#000"/>
<circle cx="472.1" cy="301.1" r="2.5" fill="#fff" stroke="#333" stroke-width="0.7"/>
<line x1="504.9" y1="239" x2="504.9" y2="253.7" stroke="#555" stroke-width="1.6"/>
<line x1="504.9" y1="271.3" x2="504.9" y2="274.1" stroke="#555" stroke-width="1.6"/>
<line x1="498.4" y1="239" x2="511.4" y2="239" stroke="#555" stroke-width="1.6"/>
<line x1="498.4" y1="274.1" x2="511.4" y2="274.1" stroke="#555" stroke-width="1.6"/>
<rect x="493.1" y="253.7" width="23.6" height="17.6" fill="#489d8c" stroke="#555" stroke-width="1.6"/>
<line x1="493.1" y1="260.3" x2="516.7" y2="260.3" stroke="#555" stroke-width="1.6"/>
<circle cx="507" cy="239" r="2.8" fill="#000"/>
<circle cx="503.8" cy="250.8" r="2.8" fill="#000"/>
<circle cx="501.9" cy="254.6" r="2.5" fill="#fff" stroke="#333" stroke-width="0.7"/>
<circle cx="504.3" cy="257.8" r="2.5" fill="#fff" stroke="#333" stroke-width="0.7"/>
<circle cx="507" cy="263.1" r="2.8" fill="#000"/>
<circle cx="505.1" cy="270.4" r="2.5" fill="#fff" stroke="#333" stroke-width="0.7"/>
<circle cx="501.9" cy="274.1" r="2.5" fill="#fff" stroke="#333" stroke-width="0.7"/>
<circle cx="505.7" cy="301.1" r="2.8" fill="#000"/>
<line x1="535.9" y1="234.3" x2="535.9" y2="245.5" stroke="#555" stroke-width="1.6"/>
<line x1="535.9" y1="261.2" x2="535.9" y2="269.8" stroke="#555" stroke-width="1.6"/>
<line x1="529.4" y1="234.3" x2="542.4" y2="234.3" stroke="#555" stroke-width="1.6"/>
<line x1="529.4" y1="269.8" x2="542.4" y2="269.8" stroke="#555" stroke-width="1.6"/>
<rect x="524.1" y="245.5" width="23.6" height="15.7" fill="#489d8c" stroke="#555" stroke-width="1.6"/>
<line x1="524.1" y1="254" x2="547.7" y2="254" stroke="#555" stroke-width="1.6"/>
<circle cx="533.2" cy="235.2" r="2.5" fill="#fff" stroke="#333" stroke-width="0.7"/>
<circle cx="534.7" cy="234.3" r="2.8" fill="#000"/>
<circle cx="536" cy="249.9" r="2.5" fill="#fff" stroke="#333" stroke-width="0.7"/>
<circle cx="538.9" cy="249.5" r="2.5" fill="#fff" stroke="#333" stroke-width="0.7"/>
<circle cx="533.2" cy="258.4" r="2.8" fill="#000"/>
<circle cx="535.1" cy="259.7" r="2.8" fill="#000"/>
<circle cx="536.6" cy="267.9" r="2.8" fill="#000"/>
<circle cx="537" cy="270.4" r="2.5" fill="#fff" stroke="#333" stroke-width="0.7"/>
<line x1="566.9" y1="221.6" x2="566.9" y2="242.4" stroke="#555" stroke-width="1.6"/>
<line x1="566.9" y1="267.1" x2="566.9" y2="278.5" stroke="#555" stroke-width="1.6"/>
<line x1="560.4" y1="221.6" x2="573.4" y2="221.6" stroke="#555" stroke-width="1.6"/>
<line x1="560.4" y1="278.5" x2="573.4" y2="278.5" stroke="#555" stroke-width="1.6"/>
<rect x="555.1" y="242.4" width="23.6" height="24.7" fill="#489d8c" stroke="#555" stroke-width="1.6"/>
<line x1="555.1" y1="251.4" x2="578.7" y2="251.4" stroke="#555" stroke-width="1.6"/>
<circle cx="569.5" cy="221.6" r="2.5" fill="#fff" stroke="#333" stroke-width="0.7"/>
<circle cx="566.1" cy="227.3" r="2.5" fill="#fff" stroke="#333" stroke-width="0.7"/>
<circle cx="566.7" cy="247.8" r="2.5" fill="#fff" stroke="#333" stroke-width="0.7"/>
<circle cx="568.4" cy="248.1" r="2.8" fill="#000"/>
<circle cx="566.1" cy="255.4" r="2.5" fill="#fff" stroke="#333" stroke-width="0.7"/>
<circle cx="566.7" cy="266.2" r="2.8" fill="#000"/>
<circle cx="566.1" cy="270.5" r="2.8" fill="#000"/>
<circle cx="568" cy="278.5" r="2.8" fill="#000"/>
<line x1="597.9" y1="229.7" x2="597.9" y2="244.3" stroke="#555" stroke-width="1.6"/>
<line x1="597.9" y1="254.2" x2="597.9" y2="261.4" stroke="#555" stroke-width="1.6"/>
<line x1="591.4" y1="229.7" x2="604.4" y2="229.7" stroke="#555" stroke-width="1.6"/>
<line x1="591.4" y1="261.4" x2="604.4" y2="261.4" stroke="#555" stroke-width="1.6"/>
<rect x="586.1" y="244.3" width="23.6" height="9.9" fill="#489d8c" stroke="#555" stroke-width="1.6"/>
<line x1="586.1" y1="251.6" x2="609.7" y2="251.6" stroke="#555" stroke-width="1.6"/>
<circle cx="597.1" cy="229.7" r="2.5" fill="#fff" stroke="#333" stroke-width="0.7"/>
<circle cx="599" cy="235.4" r="2.8" fill="#000"/>
<circle cx="599" cy="246.6" r="2.5" fill="#fff" stroke="#333" stroke-width="0.7"/>
<circle cx="595" cy="251.9" r="2.8" fill="#000"/>
<circle cx="600.3" cy="251.6" r="2.8" fill="#000"/>
<circle cx="597.4" cy="254.2" r="2.5" fill="#fff" stroke="#333" stroke-width="0.7"/>
<circle cx="595" cy="257.6" r="2.8" fill="#000"/>
<circle cx="599" cy="261.4" r="2.5" fill="#fff" stroke="#333" stroke-width="0.7"/>
<line x1="628.9" y1="207" x2="628.9" y2="226.9" stroke="#555" stroke-width="1.6"/>
<line x1="628.9" y1="256.9" x2="628.9" y2="277.9" stroke="#555" stroke-width="1.6"/>
<line x1="622.4" y1="207" x2="635.4" y2="207" stroke="#555" stroke-width="1.6"/>
<line x1="622.4" y1="277.9" x2="635.4" y2="277.9" stroke="#555" stroke-width="1.6"/>
<rect x="617.1" y="226.9" width="23.6" height="30" fill="#489d8c" stroke="#555" stroke-width="1.6"/>
<line x1="617.1" y1="235.8" x2="640.7" y2="235.8" stroke="#555" stroke-width="1.6"/>
<circle cx="628.2" cy="207" r="2.8" fill="#000"/>
<circle cx="626.5" cy="216.3" r="2.8" fill="#000"/>
<circle cx="630.7" cy="230.5" r="2.8" fill="#000"/>
<circle cx="626.9" cy="233" r="2.5" fill="#fff" stroke="#333" stroke-width="0.7"/>
<circle cx="627.8" cy="239" r="2.8" fill="#000"/>
<circle cx="632" cy="250" r="2.5" fill="#fff" stroke="#333" stroke-width="0.7"/>
<circle cx="630.7" cy="277.6" r="2.5" fill="#fff" stroke="#333" stroke-width="0.7"/>
<circle cx="629.7" cy="277.9" r="2.5" fill="#fff" stroke="#333" stroke-width="0.7"/>
<line x1="659.9" y1="222.1" x2="659.9" y2="228.2" stroke="#555" stroke-width="1.6"/>
<line x1="659.9" y1="239.2" x2="659.9" y2="254.2" stroke="#555" stroke-width="1.6"/>
<line x1="653.4" y1="222.1" x2="666.4" y2="222.1" stroke="#555" stroke-width="1.6"/>
<line x1="653.4" y1="254.2" x2="666.4" y2="254.2" stroke="#555" stroke-width="1.6"/>
<rect x="648.1" y="228.2" width="23.6" height="11" fill="#489d8c" stroke="#555" stroke-width="1.6"/>
<line x1="648.1" y1="231.4" x2="671.7" y2="231.4" stroke="#555" stroke-width="1.6"/>
<circle cx="659.7" cy="222.1" r="2.5" fill="#fff" stroke="#333" stroke-width="0.7"/>
<circle cx="660.5" cy="226.9" r="2.8" fill="#000"/>
<circle cx="658.6" cy="228.8" r="2.8" fill="#000"/>
<circle cx="662" cy="229.7" r="2.8" fill="#000"/>
<circle cx="659.3" cy="233" r="2.5" fill="#fff" stroke="#333" stroke-width="0.7"/>
<circle cx="657.8" cy="233.9" r="2.8" fill="#000"/>
<circle cx="662" cy="253.8" r="2.5" fill="#fff" stroke="#333" stroke-width="0.7"/>
<circle cx="659.1" cy="255.7" r="2.5" fill="#fff" stroke="#333" stroke-width="0.7"/>
<line x1="427.6" y1="368.9" x2="427.6" y2="586.7" stroke="#222" stroke-width="1.9"/>
<line x1="418" y1="369.8" x2="427.6" y2="369.8" stroke="#222" stroke-width="1.9"/>
<text x="411" y="374.7" font-size="12" fill="#333" text-anchor="end">21</text>
<line x1="418" y1="413" x2="427.6" y2="413" stroke="#222" stroke-width="1.9"/>
<text x="411" y="417.9" font-size="12" fill="#333" text-anchor="end">20</text>
<line x1="418" y1="456.2" x2="427.6" y2="456.2" stroke="#222" stroke-width="1.9"/>
<text x="411" y="461.1" font-size="12" fill="#333" text-anchor="end">19</text>
<line x1="418" y1="499.4" x2="427.6" y2="499.4" stroke="#222" stroke-width="1.9"/>
<text x="411" y="504.3" font-size="12" fill="#333" text-anchor="end">18</text>
<line x1="418" y1="542.6" x2="427.6" y2="542.6" stroke="#222" stroke-width="1.9"/>
<text x="411" y="547.5" font-size="12" fill="#333" text-anchor="end">17</text>
<line x1="418" y1="585.8" x2="427.6" y2="585.8" stroke="#222" stroke-width="1.9"/>
<text x="411" y="590.7" font-size="12" fill="#333" text-anchor="end">16</text>
<line x1="426.7" y1="585.8" x2="676.5" y2="585.8" stroke="#222" stroke-width="1.9"/>
<line x1="442.9" y1="585.8" x2="442.9" y2="595.2" stroke="#222" stroke-width="1.9"/>
<text x="442.9" y="610.5" font-size="12" fill="#333" text-anchor="middle">1</text>
<line x1="473.9" y1="585.8" x2="473.9" y2="595.2" stroke="#222" stroke-width="1.9"/>
<text x="473.9" y="610.5" font-size="12" fill="#333" text-anchor="middle">2</text>
<line x1="504.9" y1="585.8" x2="504.9" y2="595.2" stroke="#222" stroke-width="1.9"/>
<text x="504.9" y="610.5" font-size="12" fill="#333" text-anchor="middle">3</text>
<line x1="535.9" y1="585.8" x2="535.9" y2="595.2" stroke="#222" stroke-width="1.9"/>
<text x="535.9" y="610.5" font-size="12" fill="#333" text-anchor="middle">4</text>
<line x1="566.9" y1="585.8" x2="566.9" y2="595.2" stroke="#222" stroke-width="1.9"/>
<text x="566.9" y="610.5" font-size="12" fill="#333" text-anchor="middle">5</text>
<line x1="597.9" y1="585.8" x2="597.9" y2="595.2" stroke="#222" stroke-width="1.9"/>
<text x="597.9" y="610.5" font-size="12" fill="#333" text-anchor="middle">6</text>
<line x1="628.9" y1="585.8" x2="628.9" y2="595.2" stroke="#222" stroke-width="1.9"/>
<text x="628.9" y="610.5" font-size="12" fill="#333" text-anchor="middle">7</text>
<line x1="659.9" y1="585.8" x2="659.9" y2="595.2" stroke="#222" stroke-width="1.9"/>
<text x="659.9" y="610.5" font-size="12" fill="#333" text-anchor="middle">8</text>
<text x="551.3" y="376.2" font-size="12" fill="#333" text-anchor="middle">2023.05.30</text>
<text transform="translate(388.8,477.8) rotate(-90)" font-size="12.4" fill="#333" text-anchor="middle">log<tspan font-size="8.5" dy="2.8">2</tspan><tspan dy="-2.8">(eGFP) [AU]</tspan></text>
<line x1="442.9" y1="418.7" x2="442.9" y2="422" stroke="#555" stroke-width="1.6"/>
<line x1="442.9" y1="435.4" x2="442.9" y2="440.9" stroke="#555" stroke-width="1.6"/>
<line x1="436.4" y1="418.7" x2="449.4" y2="418.7" stroke="#555" stroke-width="1.6"/>
<line x1="436.4" y1="440.9" x2="449.4" y2="440.9" stroke="#555" stroke-width="1.6"/>
<rect x="431.1" y="422" width="23.6" height="13.4" fill="#ec926c" stroke="#555" stroke-width="1.6"/>
<line x1="431.1" y1="428.8" x2="454.7" y2="428.8" stroke="#555" stroke-width="1.6"/>
<circle cx="440.2" cy="418.7" r="2.8" fill="#000"/>
<circle cx="445.5" cy="419.7" r="2.5" fill="#fff" stroke="#333" stroke-width="0.7"/>
<circle cx="440.8" cy="422.5" r="2.5" fill="#fff" stroke="#333" stroke-width="0.7"/>
<circle cx="445.9" cy="427.3" r="2.8" fill="#000"/>
<circle cx="444" cy="431.1" r="2.5" fill="#fff" stroke="#333" stroke-width="0.7"/>
<circle cx="439.8" cy="433.5" r="2.8" fill="#000"/>
<circle cx="444" cy="441.1" r="2.8" fill="#000"/>
<circle cx="441.1" cy="475.1" r="2.5" fill="#fff" stroke="#333" stroke-width="0.7"/>
<line x1="473.9" y1="416.8" x2="473.9" y2="418.7" stroke="#555" stroke-width="1.6"/>
<line x1="473.9" y1="432.6" x2="473.9" y2="450" stroke="#555" stroke-width="1.6"/>
<line x1="467.4" y1="416.8" x2="480.4" y2="416.8" stroke="#555" stroke-width="1.6"/>
<line x1="467.4" y1="450" x2="480.4" y2="450" stroke="#555" stroke-width="1.6"/>
<rect x="462.1" y="418.7" width="23.6" height="13.9" fill="#ec926c" stroke="#555" stroke-width="1.6"/>
<line x1="462.1" y1="422.5" x2="485.7" y2="422.5" stroke="#555" stroke-width="1.6"/>
<circle cx="472.4" cy="417.4" r="2.8" fill="#000"/>
<circle cx="476.6" cy="418.2" r="2.5" fill="#fff" stroke="#333" stroke-width="0.7"/>
<circle cx="473.4" cy="423.1" r="2.8" fill="#000"/>
<circle cx="476.6" cy="431.6" r="2.8" fill="#000"/>
<circle cx="471.1" cy="434.3" r="2.8" fill="#000"/>
<circle cx="475.3" cy="450" r="2.5" fill="#fff" stroke="#333" stroke-width="0.7"/>
<line x1="504.9" y1="413" x2="504.9" y2="417.4" stroke="#555" stroke-width="1.6"/>
<line x1="504.9" y1="436.2" x2="504.9" y2="443" stroke="#555" stroke-width="1.6"/>
<line x1="498.4" y1="413" x2="511.4" y2="413" stroke="#555" stroke-width="1.6"/>
<line x1="498.4" y1="443" x2="511.4" y2="443" stroke="#555" stroke-width="1.6"/>
<rect x="493.1" y="417.4" width="23.6" height="18.8" fill="#ec926c" stroke="#555" stroke-width="1.6"/>
<line x1="493.1" y1="424" x2="516.7" y2="424" stroke="#555" stroke-width="1.6"/>
<circle cx="507.9" cy="413" r="2.5" fill="#fff" stroke="#333" stroke-width="0.7"/>
<circle cx="503.8" cy="416.3" r="2.8" fill="#000"/>
<circle cx="505.7" cy="417.4" r="2.5" fill="#fff" stroke="#333" stroke-width="0.7"/>
<circle cx="503.2" cy="419.3" r="2.5" fill="#fff" stroke="#333" stroke-width="0.7"/>
<circle cx="505.7" cy="429.2" r="2.5" fill="#fff" stroke="#333" stroke-width="0.7"/>
<circle cx="501.9" cy="435.8" r="2.8" fill="#000"/>
<circle cx="504.3" cy="443.4" r="2.8" fill="#000"/>
<line x1="535.9" y1="398.8" x2="535.9" y2="407.7" stroke="#555" stroke-width="1.6"/>
<line x1="535.9" y1="420.1" x2="535.9" y2="437.1" stroke="#555" stroke-width="1.6"/>
<line x1="529.4" y1="398.8" x2="542.4" y2="398.8" stroke="#555" stroke-width="1.6"/>
<line x1="529.4" y1="437.1" x2="542.4" y2="437.1" stroke="#555" stroke-width="1.6"/>
<rect x="524.1" y="407.7" width="23.6" height="12.4" fill="#ec926c" stroke="#555" stroke-width="1.6"/>
<line x1="524.1" y1="412.5" x2="547.7" y2="412.5" stroke="#555" stroke-width="1.6"/>
<circle cx="537.4" cy="398.8" r="2.5" fill="#fff" stroke="#333" stroke-width="0.7"/>
<circle cx="537.5" cy="401.1" r="2.5" fill="#fff" stroke="#333" stroke-width="0.7"/>
<circle cx="536.4" cy="409.8" r="2.5" fill="#fff" stroke="#333" stroke-width="0.7"/>
<circle cx="538.5" cy="410.6" r="2.8" fill="#000"/>
<circle cx="536.6" cy="414" r="2.8" fill="#000"/>
<circle cx="537.9" cy="418.2" r="2.5" fill="#fff" stroke="#333" stroke-width="0.7"/>
<circle cx="536" cy="426.9" r="2.8" fill="#000"/>
<circle cx="538.3" cy="437.1" r="2.8" fill="#000"/>
<line x1="566.9" y1="396.7" x2="566.9" y2="408.1" stroke="#555" stroke-width="1.6"/>
<line x1="566.9" y1="423.3" x2="566.9" y2="430.9" stroke="#555" stroke-width="1.6"/>
<line x1="560.4" y1="396.7" x2="573.4" y2="396.7" stroke="#555" stroke-width="1.6"/>
<line x1="560.4" y1="430.9" x2="573.4" y2="430.9" stroke="#555" stroke-width="1.6"/>
<rect x="555.1" y="408.1" width="23.6" height="15.2" fill="#ec926c" stroke="#555" stroke-width="1.6"/>
<line x1="555.1" y1="413.8" x2="578.7" y2="413.8" stroke="#555" stroke-width="1.6"/>
<circle cx="568" cy="396.7" r="2.5" fill="#fff" stroke="#333" stroke-width="0.7"/>
<circle cx="566.1" cy="400.5" r="2.5" fill="#fff" stroke="#333" stroke-width="0.7"/>
<circle cx="568.4" cy="410.4" r="2.8" fill="#000"/>
<circle cx="569" cy="414.2" r="2.5" fill="#fff" stroke="#333" stroke-width="0.7"/>
<circle cx="569.9" cy="414.5" r="2.5" fill="#fff" stroke="#333" stroke-width="0.7"/>
<circle cx="564.6" cy="420.8" r="2.8" fill="#000"/>
<circle cx="566.7" cy="428.4" r="2.8" fill="#000"/>
<circle cx="567.5" cy="430.9" r="2.8" fill="#000"/>
<line x1="597.9" y1="408.1" x2="597.9" y2="409.8" stroke="#555" stroke-width="1.6"/>
<line x1="597.9" y1="418.3" x2="597.9" y2="425.5" stroke="#555" stroke-width="1.6"/>
<line x1="591.4" y1="408.1" x2="604.4" y2="408.1" stroke="#555" stroke-width="1.6"/>
<line x1="591.4" y1="425.5" x2="604.4" y2="425.5" stroke="#555" stroke-width="1.6"/>
<rect x="586.1" y="409.8" width="23.6" height="8.5" fill="#ec926c" stroke="#555" stroke-width="1.6"/>
<line x1="586.1" y1="415.1" x2="609.7" y2="415.1" stroke="#555" stroke-width="1.6"/>
<circle cx="600.3" cy="395.8" r="2.5" fill="#fff" stroke="#333" stroke-width="0.7"/>
<circle cx="600.9" cy="407.5" r="2.5" fill="#fff" stroke="#333" stroke-width="0.7"/>
<circle cx="600.9" cy="410.4" r="2.8" fill="#000"/>
<circle cx="597.4" cy="413.8" r="2.5" fill="#fff" stroke="#333" stroke-width="0.7"/>
<circle cx="599.3" cy="414.7" r="2.8" fill="#000"/>
<circle cx="597.4" cy="419.3" r="2.8" fill="#000"/>
<circle cx="595.2" cy="425.5" r="2.8" fill="#000"/>
<line x1="628.9" y1="393.7" x2="628.9" y2="401.4" stroke="#555" stroke-width="1.6"/>
<line x1="628.9" y1="420.2" x2="628.9" y2="428.4" stroke="#555" stroke-width="1.6"/>
<line x1="622.4" y1="393.7" x2="635.4" y2="393.7" stroke="#555" stroke-width="1.6"/>
<line x1="622.4" y1="428.4" x2="635.4" y2="428.4" stroke="#555" stroke-width="1.6"/>
<rect x="617.1" y="401.4" width="23.6" height="18.8" fill="#ec926c" stroke="#555" stroke-width="1.6"/>
<line x1="617.1" y1="413.8" x2="640.7" y2="413.8" stroke="#555" stroke-width="1.6"/>
<circle cx="631.6" cy="393.7" r="2.5" fill="#fff" stroke="#333" stroke-width="0.7"/>
<circle cx="631.2" cy="396.7" r="2.5" fill="#fff" stroke="#333" stroke-width="0.7"/>
<circle cx="629.7" cy="403.2" r="2.8" fill="#000"/>
<circle cx="625.9" cy="409.8" r="2.8" fill="#000"/>
<circle cx="630.7" cy="418.3" r="2.5" fill="#fff" stroke="#333" stroke-width="0.7"/>
<circle cx="626.9" cy="422.1" r="2.8" fill="#000"/>
<circle cx="629.3" cy="428.4" r="2.8" fill="#000"/>
<line x1="659.9" y1="388.9" x2="659.9" y2="396.5" stroke="#555" stroke-width="1.6"/>
<line x1="659.9" y1="410.7" x2="659.9" y2="418" stroke="#555" stroke-width="1.6"/>
<line x1="653.4" y1="388.9" x2="666.4" y2="388.9" stroke="#555" stroke-width="1.6"/>
<line x1="653.4" y1="418" x2="666.4" y2="418" stroke="#555" stroke-width="1.6"/>
<rect x="648.1" y="396.5" width="23.6" height="14.2" fill="#ec926c" stroke="#555" stroke-width="1.6"/>
<line x1="648.1" y1="401.3" x2="671.7" y2="401.3" stroke="#555" stroke-width="1.6"/>
<circle cx="656.8" cy="388.9" r="2.5" fill="#fff" stroke="#333" stroke-width="0.7"/>
<circle cx="662" cy="396.1" r="2.8" fill="#000"/>
<circle cx="658.2" cy="401.8" r="2.8" fill="#000"/>
<circle cx="662.4" cy="400.9" r="2.8" fill="#000"/>
<circle cx="662" cy="409.8" r="2.8" fill="#000"/>
<circle cx="659.7" cy="413.6" r="2.5" fill="#fff" stroke="#333" stroke-width="0.7"/>
<circle cx="656.8" cy="418" r="2.5" fill="#fff" stroke="#333" stroke-width="0.7"/>
<text x="551.8" y="628.3" font-size="12" fill="#333" text-anchor="middle">Plant</text>
<circle cx="469.1" cy="567.9" r="5.3" fill="#fff" stroke="#222" stroke-width="1"/>
<text x="491" y="572" font-size="12" fill="#333">leaf T4</text>
<circle cx="587.5" cy="567.9" r="5.8" fill="#000"/>
<text x="609" y="572" font-size="12" fill="#333">leaf T5</text>
<text x="5.8" y="651.8" font-size="11" font-weight="bold" fill="#222">D</text>
<text x="336" y="651" font-size="12" fill="#333" text-anchor="middle">Percent contribution to variation</text>
<rect x="62.5" y="659.5" width="24.5" height="8.8" fill="#bbdff0" stroke="#000" stroke-width="1.8"/>
<text x="93.5" y="668.1" font-size="12" fill="#333">Batch-to-batch mean GFP</text>
<rect x="62.5" y="676.6" width="24.5" height="8.8" fill="#88cbec" stroke="#000" stroke-width="1.8"/>
<text x="93.5" y="685.2" font-size="12" fill="#333">Batch-to-batch GFP variance</text>
<rect x="259.5" y="659.5" width="24.5" height="8.8" fill="#e1a9b4" stroke="#000" stroke-width="1.8"/>
<text x="290.5" y="668.1" font-size="12" fill="#333">Plant-to-plant mean GFP</text>
<rect x="259.5" y="676.6" width="24.5" height="8.8" fill="#cc6274" stroke="#000" stroke-width="1.8"/>
<text x="290.5" y="685.2" font-size="12" fill="#333">Leaf-to-leaf GFP variance</text>
<rect x="438.5" y="659.5" width="24.5" height="8.8" fill="#dbc976" stroke="#000" stroke-width="1.8"/>
<text x="469.5" y="668.1" font-size="12" fill="#333">Disc-to-disc GFP variance</text>
<text x="5.2" y="690.8" font-size="12" fill="#333" text-anchor="middle">0</text>
<text x="675.3" y="690.8" font-size="12" fill="#333" text-anchor="middle">100</text>
<rect x="5.4" y="708.7" width="159.2" height="31.2" fill="#bbdff0"/>
<text x="85" y="727.3" font-size="12" fill="#333" text-anchor="middle">23.8</text>
<rect x="164.6" y="708.7" width="104.3" height="31.2" fill="#88cbec"/>
<text x="216.8" y="727.3" font-size="12" fill="#333" text-anchor="middle">15.6</text>
<rect x="268.9" y="708.7" width="66.2" height="31.2" fill="#e1a9b4"/>
<text x="302.1" y="727.3" font-size="12" fill="#333" text-anchor="middle">9.9</text>
<rect x="335.2" y="708.7" width="188.6" height="31.2" fill="#cc6274"/>
<text x="429.5" y="727.3" font-size="12" fill="#333" text-anchor="middle">28.2</text>
<rect x="523.8" y="708.7" width="150.5" height="31.2" fill="#dbc976"/>
<text x="599" y="727.3" font-size="12" fill="#333" text-anchor="middle">22.3</text>
<line x1="4.5" y1="708.7" x2="675.2" y2="708.7" stroke="#222" stroke-width="1.9"/>
<line x1="4.5" y1="739.9" x2="675.2" y2="739.9" stroke="#222" stroke-width="1.9"/>
<line x1="5.4" y1="708.7" x2="5.4" y2="739.9" stroke="#222" stroke-width="1.9"/>
<line x1="164.6" y1="708.7" x2="164.6" y2="739.9" stroke="#222" stroke-width="1.9"/>
<line x1="268.9" y1="708.7" x2="268.9" y2="739.9" stroke="#222" stroke-width="1.9"/>
<line x1="335.2" y1="708.7" x2="335.2" y2="739.9" stroke="#222" stroke-width="1.9"/>
<line x1="523.8" y1="708.7" x2="523.8" y2="739.9" stroke="#222" stroke-width="1.9"/>
<line x1="674.3" y1="708.7" x2="674.3" y2="739.9" stroke="#222" stroke-width="1.9"/>
<line x1="5.4" y1="699.4" x2="5.4" y2="708.7" stroke="#222" stroke-width="1.9"/>
<line x1="675.2" y1="699.4" x2="675.2" y2="708.7" stroke="#222" stroke-width="1.9"/>
<defs>
<g id="tp">
<path d="M0,0 L0,-28" stroke="#6fa84a" stroke-width="1.1"/>
<ellipse cx="-8" cy="-4.5" rx="8.5" ry="2.3" transform="rotate(8 -8 -4.5)" fill="#80ba4f"/>
<ellipse cx="9" cy="-6" rx="9" ry="2.3" transform="rotate(-14 9 -6)" fill="#86be55"/>
<ellipse cx="-7" cy="-11" rx="7.5" ry="2.2" transform="rotate(6 -7 -11)" fill="#78b348"/>
<ellipse cx="8" cy="-12.5" rx="7.5" ry="2.2" transform="rotate(-18 8 -12.5)" fill="#80ba4f"/>
<ellipse cx="-6" cy="-17.5" rx="6.5" ry="2.1" transform="rotate(5 -6 -17.5)" fill="#78b348"/>
<ellipse cx="6.5" cy="-18.5" rx="6.5" ry="2.1" transform="rotate(-20 6.5 -18.5)" fill="#80ba4f"/>
<ellipse cx="-4.5" cy="-23" rx="5" ry="2" transform="rotate(0 -4.5 -23)" fill="#7ab54b"/>
<ellipse cx="5" cy="-24" rx="5" ry="2" transform="rotate(-22 5 -24)" fill="#82bc52"/>
<ellipse cx="0.5" cy="-8.5" rx="3.2" ry="3.6" fill="#66a03c"/>
<ellipse cx="0.5" cy="-15" rx="3" ry="3.4" fill="#68a23e"/>
<ellipse cx="0.3" cy="-21" rx="2.6" ry="3" fill="#6aa440"/>
<ellipse cx="-0.5" cy="-28" rx="4.8" ry="2.3" transform="rotate(-20 -0.5 -28)" fill="#76b048"/>
</g>
<g id="tray">
<path d="M110.4,784.8 L124,779.3 L196,773.3 L201.2,776 L200.6,779.5 L198.3,783.6 L142.5,804.4 L139,803.9 L112.5,789.9 L110.2,786.6 Z" fill="#3a3a3a"/>
<path d="M111.6,786.5 L142.5,799 L200.4,778.4 L198.3,783.6 L142.5,804.4 L139,803.9 L112.5,789.9 Z" fill="#333"/>
<path d="M113,788 L142.5,800.6 L199.6,780.2 M113.8,789.4 L142.5,802.2 L198.9,781.8" fill="none" stroke="#474747" stroke-width="0.45"/>
<path d="M110.8,785.8 L142.5,798.8 L200.9,777.9" fill="none" stroke="#5e5e5e" stroke-width="0.9"/>
<path d="M116.5,784.2 L142,795 L196.5,776.6" fill="none" stroke="#4a4a4a" stroke-width="0.6"/>
<path d="M124,782.5 L140,782.5 L140.5,794.5 L124.5,788.5 Z M144,782.5 L160,782.5 L159.5,789.5 L144.5,794.8 Z" fill="#424242"/>
<path d="M164,776.5 L181,776.5 L180.5,785 L164.5,790 Z M184,771.5 L198,771.5 L197.5,777.5 L184.5,782.5 Z" fill="#424242"/>
<path d="M140.3,782.5 L140.5,794.5 M160,782.5 L159.6,789.5 M181,776.5 L180.6,785" stroke="#2a2a2a" stroke-width="1.2"/>
<ellipse cx="172.2" cy="777.4" rx="6.5" ry="1.9" fill="#6b4a33"/>
<ellipse cx="192.6" cy="771.8" rx="5.5" ry="1.7" fill="#6b4a33"/>
<use href="#tp" transform="translate(190.3,771.4) scale(0.78,0.7)"/>
<use href="#tp" transform="translate(171.3,776.5) scale(1,1.02)"/>
<ellipse cx="132" cy="783.2" rx="7" ry="2" fill="#6b4a33"/>
<ellipse cx="151.7" cy="783.2" rx="7" ry="2" fill="#6b4a33"/>
<use href="#tp" transform="translate(131.6,783.1) scale(0.95,0.92)"/>
<use href="#tp" transform="translate(152.3,783.1) scale(1,1.08)"/>
</g>
</defs>
<!-- vertical double line -->
<line x1="50.2" y1="752.8" x2="50.2" y2="909.8" stroke="#bcdff3" stroke-width="1.6"/>
<line x1="53.8" y1="752.8" x2="53.8" y2="909.8" stroke="#86c8ec" stroke-width="1.9"/>
<!-- calendars -->
<rect x="63" y="760.4" width="38.1" height="34.3" rx="5" fill="#737373"/><rect x="65.5" y="770.7" width="33.1" height="21.5" rx="2.5" fill="#fff"/><rect x="69" y="756.8" width="3.6" height="10.4" rx="1.8" fill="#737373" stroke="#fff" stroke-width="0.8"/><rect x="90.8" y="756.8" width="3.6" height="10.4" rx="1.8" fill="#737373" stroke="#fff" stroke-width="0.8"/><rect x="79.8" y="774.4" width="3.8" height="3.8" rx="0.6" fill="#111"/><rect x="85.6" y="774.4" width="3.8" height="3.8" rx="0.6" fill="#b3b3b3"/><rect x="91.4" y="774.4" width="3.8" height="3.8" rx="0.6" fill="#b3b3b3"/><rect x="67.9" y="780.1" width="3.8" height="3.8" rx="0.6" fill="#b3b3b3"/><rect x="73.9" y="780.1" width="3.8" height="3.8" rx="0.6" fill="#b3b3b3"/><rect x="79.8" y="780.1" width="3.8" height="3.8" rx="0.6" fill="#b3b3b3"/><rect x="85.6" y="780.1" width="3.8" height="3.8" rx="0.6" fill="#b3b3b3"/><rect x="91.4" y="780.1" width="3.8" height="3.8" rx="0.6" fill="#b3b3b3"/><rect x="67.9" y="786" width="3.8" height="3.8" rx="0.6" fill="#b3b3b3"/><rect x="73.9" y="786" width="3.8" height="3.8" rx="0.6" fill="#b3b3b3"/><rect x="79.8" y="786" width="3.8" height="3.8" rx="0.6" fill="#b3b3b3"/><rect x="85.6" y="786" width="3.8" height="3.8" rx="0.6" fill="#b3b3b3"/><rect x="63" y="813.9" width="38.1" height="34.3" rx="5" fill="#737373"/><rect x="65.5" y="824.2" width="33.1" height="21.5" rx="2.5" fill="#fff"/><rect x="69" y="810.3" width="3.6" height="10.4" rx="1.8" fill="#737373" stroke="#fff" stroke-width="0.8"/><rect x="90.8" y="810.3" width="3.6" height="10.4" rx="1.8" fill="#737373" stroke="#fff" stroke-width="0.8"/><rect x="79.8" y="827.9" width="3.8" height="3.8" rx="0.6" fill="#b3b3b3"/><rect x="85.6" y="827.9" width="3.8" height="3.8" rx="0.6" fill="#b3b3b3"/><rect x="91.4" y="827.9" width="3.8" height="3.8" rx="0.6" fill="#b3b3b3"/><rect x="67.9" y="833.6" width="3.8" height="3.8" rx="0.6" fill="#b3b3b3"/><rect x="73.9" y="833.6" width="3.8" height="3.8" rx="0.6" fill="#b3b3b3"/><rect x="79.8" y="833.6" width="3.8" height="3.8" rx="0.6" fill="#b3b3b3"/><rect x="85.6" y="833.6" width="3.8" height="3.8" rx="0.6" fill="#b3b3b3"/><rect x="91.4" y="833.6" width="3.8" height="3.8" rx="0.6" fill="#111"/><rect x="67.9" y="839.5" width="3.8" height="3.8" rx="0.6" fill="#b3b3b3"/><rect x="73.9" y="839.5" width="3.8" height="3.8" rx="0.6" fill="#b3b3b3"/><rect x="79.8" y="839.5" width="3.8" height="3.8" rx="0.6" fill="#b3b3b3"/><rect x="85.6" y="839.5" width="3.8" height="3.8" rx="0.6" fill="#b3b3b3"/><rect x="63" y="867.2" width="38.1" height="34.3" rx="5" fill="#737373"/><rect x="65.5" y="877.5" width="33.1" height="21.5" rx="2.5" fill="#fff"/><rect x="69" y="863.6" width="3.6" height="10.4" rx="1.8" fill="#737373" stroke="#fff" stroke-width="0.8"/><rect x="90.8" y="863.6" width="3.6" height="10.4" rx="1.8" fill="#737373" stroke="#fff" stroke-width="0.8"/><rect x="79.8" y="881.2" width="3.8" height="3.8" rx="0.6" fill="#b3b3b3"/><rect x="85.6" y="881.2" width="3.8" height="3.8" rx="0.6" fill="#b3b3b3"/><rect x="91.4" y="881.2" width="3.8" height="3.8" rx="0.6" fill="#b3b3b3"/><rect x="67.9" y="886.9" width="3.8" height="3.8" rx="0.6" fill="#b3b3b3"/><rect x="73.9" y="886.9" width="3.8" height="3.8" rx="0.6" fill="#b3b3b3"/><rect x="79.8" y="886.9" width="3.8" height="3.8" rx="0.6" fill="#b3b3b3"/><rect x="85.6" y="886.9" width="3.8" height="3.8" rx="0.6" fill="#b3b3b3"/><rect x="91.4" y="886.9" width="3.8" height="3.8" rx="0.6" fill="#b3b3b3"/><rect x="67.9" y="892.8" width="3.8" height="3.8" rx="0.6" fill="#b3b3b3"/><rect x="73.9" y="892.8" width="3.8" height="3.8" rx="0.6" fill="#111"/><rect x="79.8" y="892.8" width="3.8" height="3.8" rx="0.6" fill="#b3b3b3"/><rect x="85.6" y="892.8" width="3.8" height="3.8" rx="0.6" fill="#b3b3b3"/>
<!-- trays -->
<use href="#tray"/>
<use href="#tray" y="53.4"/>
<use href="#tray" y="106.8"/>
<!-- zoom lines to pink circle -->
<path d="M184.4,829.8 L261.8,784 M184.4,829.8 L261.8,874.5" stroke="#e0a9b4" stroke-width="1.8" fill="none"/>
<circle cx="302.2" cy="829.3" r="60" fill="#fff" stroke="#e0a9b4" stroke-width="1.9"/>
<!-- pots -->
<defs>
<g id="pot">
<path d="M-9.6,0 L9.6,0 L9.6,2.2 L8.4,15.8 L7.2,18.4 L2.2,18.4 L0,17.6 L-2.2,18.4 L-7.2,18.4 L-8.4,15.8 L-9.6,2.2 Z" fill="#2f2f2f"/>
<path d="M-9.6,0 L9.6,0 L9.6,2.2 L-9.6,2.2 Z" fill="#262626"/>
<ellipse cx="0" cy="0.9" rx="8.4" ry="1.4" fill="#7a5a3f"/>
<path d="M-3.2,2.5 L-3.6,17.8 M3.2,2.5 L3.6,17.8" stroke="#3f3f3f" stroke-width="0.7"/>
<path d="M0,0.5 C-0.5,-6 -1,-12 -1.8,-18" stroke="#6fa84a" stroke-width="1" fill="none"/>
<path d="M0,-1 C0.35,-0.85 0.9,-0.55 0.92,0.05 C0.94,0.6 0.5,0.95 0,1 C-0.5,0.95 -0.94,0.6 -0.92,0.05 C-0.9,-0.55 -0.35,-0.85 0,-1Z" transform="translate(-7.8,-3.2) rotate(-100) scale(2.9,7.8)" fill="#7cb74c"/><path d="M0,-1 C0.35,-0.85 0.9,-0.55 0.92,0.05 C0.94,0.6 0.5,0.95 0,1 C-0.5,0.95 -0.94,0.6 -0.92,0.05 C-0.9,-0.55 -0.35,-0.85 0,-1Z" transform="translate(8.2,-3.2) rotate(80) scale(2.7,8)" fill="#86be56"/><path d="M0,-1 C0.35,-0.85 0.9,-0.55 0.92,0.05 C0.94,0.6 0.5,0.95 0,1 C-0.5,0.95 -0.94,0.6 -0.92,0.05 C-0.9,-0.55 -0.35,-0.85 0,-1Z" transform="translate(-0.3,-8.5) rotate(5) scale(3.7,4.6)" fill="#66a03c"/><path d="M0,-1 C0.35,-0.85 0.9,-0.55 0.92,0.05 C0.94,0.6 0.5,0.95 0,1 C-0.5,0.95 -0.94,0.6 -0.92,0.05 C-0.9,-0.55 -0.35,-0.85 0,-1Z" transform="translate(5.8,-11.5) rotate(58) scale(2.4,5.2)" fill="#7cb74c"/><path d="M0,-1 C0.35,-0.85 0.9,-0.55 0.92,0.05 C0.94,0.6 0.5,0.95 0,1 C-0.5,0.95 -0.94,0.6 -0.92,0.05 C-0.9,-0.55 -0.35,-0.85 0,-1Z" transform="translate(-4.6,-16) rotate(-58) scale(2.6,5.2)" fill="#72ae45"/>
</g>
</defs>
<use href="#pot" x="269.7" y="829.8"/>
<use href="#pot" x="301.8" y="829.8"/>
<use href="#pot" x="334" y="829.8"/>
<text x="269.9" y="859.6" font-size="9" font-weight="bold" fill="#222" text-anchor="middle">A</text>
<text x="302.1" y="859.6" font-size="9" font-weight="bold" fill="#222" text-anchor="middle">B</text>
<text x="334.4" y="859.6" font-size="9" font-weight="bold" fill="#222" text-anchor="middle">C</text>
<!-- zoom lines to crimson circle -->
<path d="M334.7,827.8 L389.2,786.9 M334.7,827.8 L387.7,870" stroke="#cc6274" stroke-width="1.9" fill="none"/>
<circle cx="432.1" cy="829.2" r="59.8" fill="#fff" stroke="#cc6274" stroke-width="1.9"/>
<!-- rosette -->
<g>
<g transform="translate(417.5,838.5) rotate(-130)"><path d="M0,-1 C0.35,-0.85 0.9,-0.55 0.92,0.05 C0.94,0.6 0.5,0.95 0,1 C-0.5,0.95 -0.94,0.6 -0.92,0.05 C-0.9,-0.55 -0.35,-0.85 0,-1Z" transform="scale(8,9.2)" fill="#5e9535"/></g>
<g transform="translate(443.5,845) rotate(140)"><path d="M0,-1 C0.35,-0.85 0.9,-0.55 0.92,0.05 C0.94,0.6 0.5,0.95 0,1 C-0.5,0.95 -0.94,0.6 -0.92,0.05 C-0.9,-0.55 -0.35,-0.85 0,-1Z" transform="scale(8.6,9.8)" fill="#5e9535"/></g>
<g transform="translate(439,812.5) rotate(22)"><path d="M0,-1 C0.35,-0.85 0.9,-0.55 0.92,0.05 C0.94,0.6 0.5,0.95 0,1 C-0.5,0.95 -0.94,0.6 -0.92,0.05 C-0.9,-0.55 -0.35,-0.85 0,-1Z" transform="scale(9.4,10.6)" fill="#5f9736"/><path d="M0,-8.48 L0,10.069999999999999 M0,1.06 L5.64,-4.24 M0,1.06 L-5.64,-4.24" stroke="#a6d185" stroke-width="0.4" opacity="0.8" fill="none"/></g>
<g transform="translate(420.3,811.6) rotate(-28)"><path d="M0,-1 C0.35,-0.85 0.9,-0.55 0.92,0.05 C0.94,0.6 0.5,0.95 0,1 C-0.5,0.95 -0.94,0.6 -0.92,0.05 C-0.9,-0.55 -0.35,-0.85 0,-1Z" transform="scale(10.2,10.6)" fill="#7ab24c"/><path d="M0,-8.48 L0,10.069999999999999 M0,1.06 L6.119999999999999,-4.24 M0,1.06 L-6.119999999999999,-4.24" stroke="#a6d185" stroke-width="0.4" opacity="0.8" fill="none"/></g>
<g transform="translate(413.2,830.8) rotate(-97)"><path d="M0,-1 C0.35,-0.85 0.9,-0.55 0.92,0.05 C0.94,0.6 0.5,0.95 0,1 C-0.5,0.95 -0.94,0.6 -0.92,0.05 C-0.9,-0.55 -0.35,-0.85 0,-1Z" transform="scale(9.3,12.2)" fill="#78b04a"/><path d="M0,-9.76 L0,11.589999999999998 M0,1.22 L5.58,-4.88 M0,1.22 L-5.58,-4.88" stroke="#a6d185" stroke-width="0.4" opacity="0.8" fill="none"/></g>
<g transform="translate(448.5,829.8) rotate(88)"><path d="M0,-1 C0.35,-0.85 0.9,-0.55 0.92,0.05 C0.94,0.6 0.5,0.95 0,1 C-0.5,0.95 -0.94,0.6 -0.92,0.05 C-0.9,-0.55 -0.35,-0.85 0,-1Z" transform="scale(11.8,12.6)" fill="#78b04a"/><path d="M0,-10.08 L0,11.969999999999999 M0,1.26 L7.08,-5.04 M0,1.26 L-7.08,-5.04" stroke="#a6d185" stroke-width="0.4" opacity="0.8" fill="none"/></g>
<g transform="translate(430.5,848) rotate(168)"><path d="M0,-1 C0.35,-0.85 0.9,-0.55 0.92,0.05 C0.94,0.6 0.5,0.95 0,1 C-0.5,0.95 -0.94,0.6 -0.92,0.05 C-0.9,-0.55 -0.35,-0.85 0,-1Z" transform="scale(10.6,11.6)" fill="#78b04a"/><path d="M0,-9.28 L0,11.02 M0,1.16 L6.359999999999999,-4.64 M0,1.16 L-6.359999999999999,-4.64" stroke="#a6d185" stroke-width="0.4" opacity="0.8" fill="none"/></g>
<path d="M426.5,825.5 L433,825 L435,829.5 L432.5,835 L427,835 L424.5,829.5 Z" fill="#fff"/>
<path d="M426,830 L422.5,829 M433.5,830 L437.5,829.5 M429.5,834 L429.5,837.5" stroke="#fff" stroke-width="2.2"/>
<g transform="translate(432.5,821.5) rotate(28)"><path d="M0,-1 C0.35,-0.85 0.9,-0.55 0.92,0.05 C0.94,0.6 0.5,0.95 0,1 C-0.5,0.95 -0.94,0.6 -0.92,0.05 C-0.9,-0.55 -0.35,-0.85 0,-1Z" transform="scale(2.4,4.8)" fill="#8bc063"/></g>
<path d="M429.8,830.8 L421,813 M429.8,830.8 L438,815 M429.8,830.8 L405,832 M429.8,830.8 L456,829 M429.8,830.8 L432,855" stroke="#8fc26a" stroke-width="0.5" opacity="0.8"/>
</g>
<!-- zoom lines to khaki circle -->
<path d="M454.9,828.6 L564.6,779.3 M454.9,828.6 L564.6,878" stroke="#dbc976" stroke-width="1.9" fill="none"/>
<circle cx="599.5" cy="829.2" r="59.8" fill="#fff" stroke="#dbc976" stroke-width="1.9"/>
<!-- leaf with discs -->
<path d="M601.4,794.4C602.4,794.9 605.1,796.2 607.1,797.2C609.2,798.2 611.9,798.8 613.8,800.1C615.7,801.4 617.5,803.1 618.7,805C619.9,807 620.7,809.4 621,811.7C621.3,814 621.1,816.5 620.6,818.7C620.2,820.9 619.5,823 618.3,825C617.2,827 615.6,829 613.8,830.6C612,832.2 609.4,833.6 607.5,834.8C605.6,836 603.9,836.9 602.6,837.6C601.3,838.3 600.6,839.3 599.6,839.2C598.7,839.1 598.2,838 596.6,837.1C595.1,836.2 592.5,835.3 590.3,834.1C588.2,832.9 585.5,831.5 583.7,829.9C581.9,828.3 580.3,826.4 579.4,824.3C578.4,822.2 578,819.6 577.9,817.3C577.9,815 578.1,812.4 578.8,810.3C579.5,808.1 580.5,806.1 581.9,804.3C583.4,802.6 585.4,801.2 587.5,800C589.6,798.8 592.2,798.3 594.5,797.3C596.8,796.4 600.3,794.9 601.4,794.4Z" fill="#6fa540"/><path d="M601.2,796.3 Q600.5,818.7 599.6,839" fill="none" stroke="#a4cf82" stroke-width="0.56" opacity="0.9"/><path d="M599.6,839 Q600,843.9 600.7,848.8" fill="none" stroke="#6fa540" stroke-width="1.05"/><path d="M600.7,808.2 L611.3,803.3" stroke="#8fbf68" stroke-width="0.35" opacity="0.6"/><path d="M600.7,808.2 L589.6,803.3" stroke="#8fbf68" stroke-width="0.35" opacity="0.6"/><path d="M600.5,818.7 L615.5,813.1" stroke="#8fbf68" stroke-width="0.35" opacity="0.6"/><path d="M600.5,818.7 L583.3,813.1" stroke="#8fbf68" stroke-width="0.35" opacity="0.6"/><path d="M600.3,827.1 L612.7,825.7" stroke="#8fbf68" stroke-width="0.35" opacity="0.6"/><path d="M600.3,827.1 L586.1,825.7" stroke="#8fbf68" stroke-width="0.35" opacity="0.6"/>
<circle cx="595.4" cy="809.4" r="2.2" fill="#fff"/>
<circle cx="607.2" cy="806.5" r="2.2" fill="#fff"/>
<circle cx="590.3" cy="814.4" r="2.2" fill="#fff"/>
<circle cx="609.1" cy="814.4" r="2.2" fill="#fff"/>
<circle cx="586.2" cy="862.8" r="2.5" fill="#6ea63f"/>
<circle cx="594.9" cy="862.8" r="2.5" fill="#6ea63f"/>
<circle cx="603.6" cy="862.8" r="2.5" fill="#6ea63f"/>
<circle cx="612.2" cy="862.8" r="2.5" fill="#6ea63f"/>

</svg>
</body></html>
